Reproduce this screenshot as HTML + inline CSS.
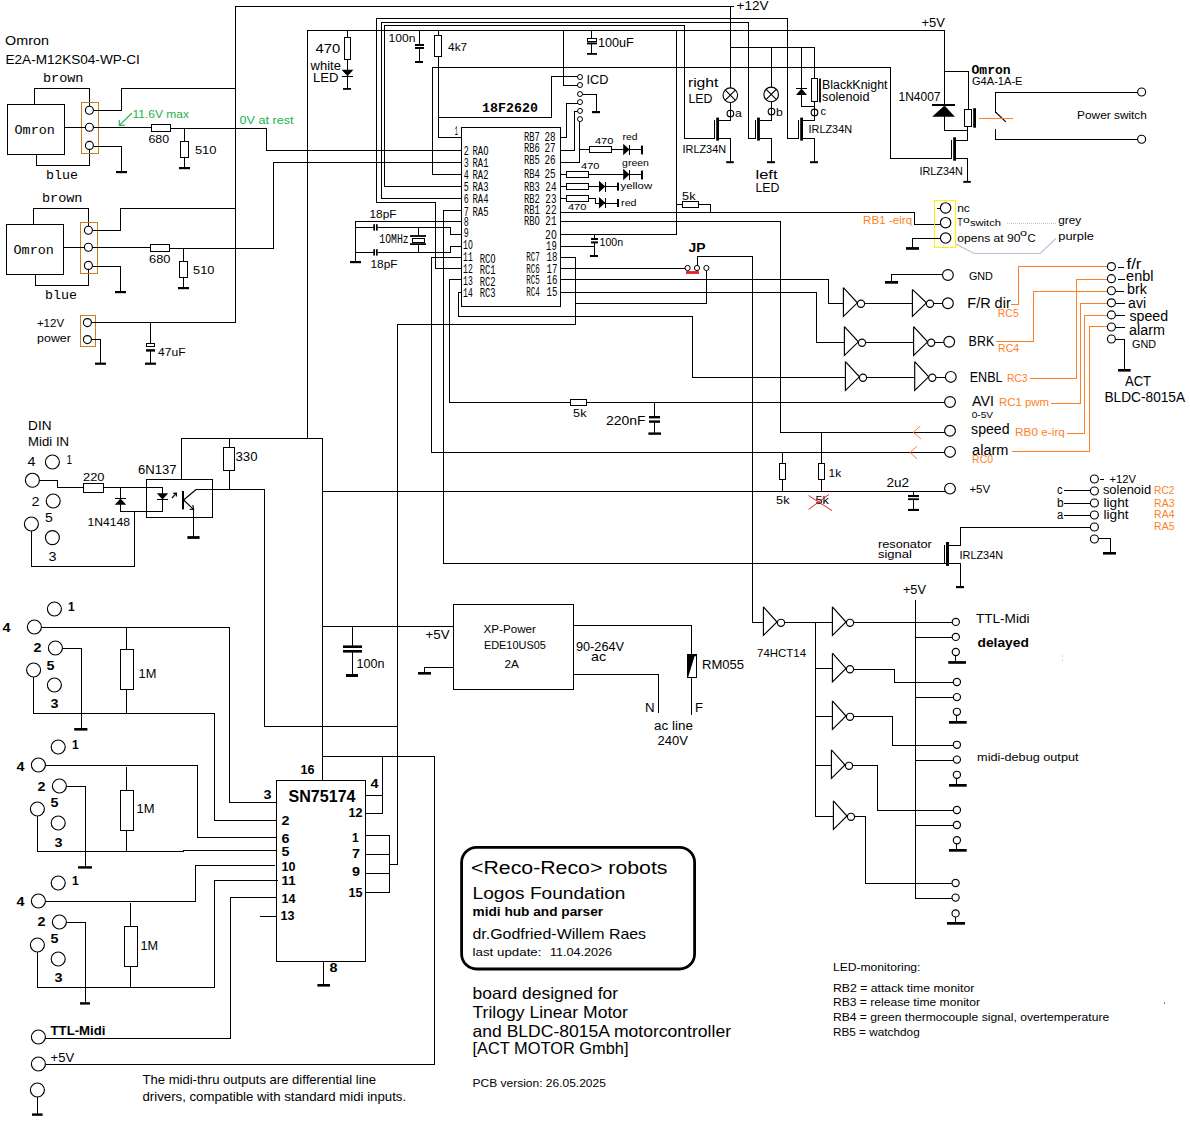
<!DOCTYPE html>
<html><head><meta charset="utf-8"><title>Reco-Reco robots schematic</title>
<style>html,body{margin:0;padding:0;background:#fff}body{width:1190px;height:1127px;overflow:hidden;font-family:"Liberation Sans",sans-serif}text{white-space:pre}</style></head>
<body>
<svg width="1190" height="1127" viewBox="0 0 1190 1127" style="display:block">
<path d="M235.5 322.5 L235.5 6.5 L733.5 6.5" stroke="#000" stroke-width="1" fill="none" stroke-linecap="square" shape-rendering="crispEdges"/>
<rect x="7.5" y="104.5" width="57" height="50" stroke="#000" stroke-width="1" fill="none" shape-rendering="crispEdges"/>
<path d="M34.5 104.5 L34.5 88.5 L89.5 88.5 L89.5 106.5" stroke="#000" stroke-width="1" fill="none" stroke-linecap="square" shape-rendering="crispEdges"/>
<path d="M36.5 154.5 L36.5 165.5 L89.5 165.5 L89.5 149.5" stroke="#000" stroke-width="1" fill="none" stroke-linecap="square" shape-rendering="crispEdges"/>
<rect x="81.5" y="102.5" width="17" height="51" stroke="#c8801e" stroke-width="1" fill="none" shape-rendering="crispEdges"/>
<path d="M94.5 110.5 L121.5 110.5 L121.5 88.5 L235.5 88.5" stroke="#000" stroke-width="1" fill="none" stroke-linecap="square" shape-rendering="crispEdges"/>
<path d="M64.5 127.5 L151.5 127.5" stroke="#000" stroke-width="1" fill="none" stroke-linecap="square" shape-rendering="crispEdges"/>
<rect x="151.5" y="124.5" width="19" height="7" stroke="#000" stroke-width="1" fill="none" shape-rendering="crispEdges"/>
<path d="M94.5 146.5 L121.5 146.5 L121.5 171.5" stroke="#000" stroke-width="1" fill="none" stroke-linecap="square" shape-rendering="crispEdges"/>
<rect x="116" y="171" width="11" height="2.2" fill="#000"/>
<path d="M184.5 128.5 L184.5 141.5" stroke="#000" stroke-width="1" fill="none" stroke-linecap="square" shape-rendering="crispEdges"/>
<rect x="180.5" y="141.5" width="8" height="16" stroke="#000" stroke-width="1" fill="none" shape-rendering="crispEdges"/>
<path d="M184.5 157.5 L184.5 167.5" stroke="#000" stroke-width="1" fill="none" stroke-linecap="square" shape-rendering="crispEdges"/>
<rect x="179" y="167" width="11" height="2.2" fill="#000"/>
<circle cx="89.4" cy="110.2" r="4" stroke="#000" stroke-width="1.15" fill="#fff"/>
<circle cx="89.4" cy="127.2" r="4" stroke="#000" stroke-width="1.15" fill="#fff"/>
<circle cx="89.4" cy="145.4" r="4" stroke="#000" stroke-width="1.15" fill="#fff"/>
<text x="42.9" y="81.6" font-size="13" font-family="'Liberation Mono', sans-serif" textLength="40.6" lengthAdjust="spacingAndGlyphs">brown</text>
<text x="14.5" y="134.4" font-size="13" font-family="'Liberation Mono', sans-serif" textLength="40.4" lengthAdjust="spacingAndGlyphs">Omron</text>
<text x="45.9" y="179.2" font-size="13" font-family="'Liberation Mono', sans-serif" textLength="32" lengthAdjust="spacingAndGlyphs">blue</text>
<text x="148.5" y="142.8" font-size="11" font-family="'Liberation Sans', sans-serif" textLength="20.6" lengthAdjust="spacingAndGlyphs">680</text>
<text x="194.9" y="154" font-size="11" font-family="'Liberation Sans', sans-serif" textLength="21.6" lengthAdjust="spacingAndGlyphs">510</text>
<rect x="6.5" y="224.5" width="57" height="50" stroke="#000" stroke-width="1" fill="none" shape-rendering="crispEdges"/>
<path d="M33.5 224.5 L33.5 208.5 L88.5 208.5 L88.5 226.5" stroke="#000" stroke-width="1" fill="none" stroke-linecap="square" shape-rendering="crispEdges"/>
<path d="M35.5 274.5 L35.5 285.5 L88.5 285.5 L88.5 269.5" stroke="#000" stroke-width="1" fill="none" stroke-linecap="square" shape-rendering="crispEdges"/>
<rect x="80.5" y="222.5" width="17" height="51" stroke="#c8801e" stroke-width="1" fill="none" shape-rendering="crispEdges"/>
<path d="M93.5 230.5 L120.5 230.5 L120.5 208.5 L235.5 208.5" stroke="#000" stroke-width="1" fill="none" stroke-linecap="square" shape-rendering="crispEdges"/>
<path d="M63.5 247.5 L150.5 247.5" stroke="#000" stroke-width="1" fill="none" stroke-linecap="square" shape-rendering="crispEdges"/>
<rect x="150.5" y="244.5" width="19" height="7" stroke="#000" stroke-width="1" fill="none" shape-rendering="crispEdges"/>
<path d="M93.5 266.5 L120.5 266.5 L120.5 291.5" stroke="#000" stroke-width="1" fill="none" stroke-linecap="square" shape-rendering="crispEdges"/>
<rect x="115" y="291" width="11" height="2.2" fill="#000"/>
<path d="M183.5 248.5 L183.5 261.5" stroke="#000" stroke-width="1" fill="none" stroke-linecap="square" shape-rendering="crispEdges"/>
<rect x="179.5" y="261.5" width="8" height="16" stroke="#000" stroke-width="1" fill="none" shape-rendering="crispEdges"/>
<path d="M183.5 277.5 L183.5 287.5" stroke="#000" stroke-width="1" fill="none" stroke-linecap="square" shape-rendering="crispEdges"/>
<rect x="178" y="287" width="11" height="2.2" fill="#000"/>
<circle cx="88.4" cy="230.2" r="4" stroke="#000" stroke-width="1.15" fill="#fff"/>
<circle cx="88.4" cy="247.2" r="4" stroke="#000" stroke-width="1.15" fill="#fff"/>
<circle cx="88.4" cy="265.4" r="4" stroke="#000" stroke-width="1.15" fill="#fff"/>
<text x="41.9" y="201.6" font-size="13" font-family="'Liberation Mono', sans-serif" textLength="40.6" lengthAdjust="spacingAndGlyphs">brown</text>
<text x="13.5" y="254.4" font-size="13" font-family="'Liberation Mono', sans-serif" textLength="40.4" lengthAdjust="spacingAndGlyphs">Omron</text>
<text x="44.9" y="299.2" font-size="13" font-family="'Liberation Mono', sans-serif" textLength="32" lengthAdjust="spacingAndGlyphs">blue</text>
<text x="149.1" y="262.8" font-size="11" font-family="'Liberation Sans', sans-serif" textLength="21.4" lengthAdjust="spacingAndGlyphs">680</text>
<text x="193.1" y="274" font-size="11" font-family="'Liberation Sans', sans-serif" textLength="21.4" lengthAdjust="spacingAndGlyphs">510</text>
<path d="M170.5 128.5 L266.5 128.5 L266.5 150.5 L461.5 150.5" stroke="#000" stroke-width="1" fill="none" stroke-linecap="square" shape-rendering="crispEdges"/>
<path d="M169.5 248.5 L273.5 248.5 L273.5 162.5 L461.5 162.5" stroke="#000" stroke-width="1" fill="none" stroke-linecap="square" shape-rendering="crispEdges"/>
<text x="5.1" y="45" font-size="13.5" font-family="'Liberation Sans', sans-serif" textLength="43.8" lengthAdjust="spacingAndGlyphs">Omron</text>
<text x="5.5" y="64" font-size="13.5" font-family="'Liberation Sans', sans-serif" textLength="134.4" lengthAdjust="spacingAndGlyphs">E2A-M12KS04-WP-CI</text>
<path d="M132 113 L119.6 125.2" stroke="#22b14c" stroke-width="1.15" fill="none"/>
<path d="M119.2 120 L119.4 125.4 L125 125.2" stroke="#22b14c" stroke-width="1.15" fill="none" stroke-linejoin="miter"/>
<text x="132.5" y="118" font-size="11.5" font-family="'Liberation Sans', sans-serif" fill="#22b14c" textLength="56.4" lengthAdjust="spacingAndGlyphs">11.6V max</text>
<text x="239.5" y="124.4" font-size="11.5" font-family="'Liberation Sans', sans-serif" fill="#22b14c" textLength="54" lengthAdjust="spacingAndGlyphs">0V at rest</text>
<rect x="80.5" y="315.5" width="15" height="31" stroke="#c8801e" stroke-width="1" fill="none" shape-rendering="crispEdges"/>
<path d="M92.5 322.5 L235.5 322.5" stroke="#000" stroke-width="1" fill="none" stroke-linecap="square" shape-rendering="crispEdges"/>
<path d="M150.5 322.5 L150.5 343.5" stroke="#000" stroke-width="1" fill="none" stroke-linecap="square" shape-rendering="crispEdges"/>
<rect x="146.5" y="343.5" width="8" height="3" stroke="#000" stroke-width="1" fill="none" shape-rendering="crispEdges"/>
<rect x="146" y="349.2" width="9" height="2.4" fill="#000"/>
<path d="M150.5 351.5 L150.5 363.5" stroke="#000" stroke-width="1" fill="none" stroke-linecap="square" shape-rendering="crispEdges"/>
<rect x="145" y="362.6" width="11" height="2.2" fill="#000"/>
<path d="M92.5 339.5 L100.5 339.5 L100.5 363.5" stroke="#000" stroke-width="1" fill="none" stroke-linecap="square" shape-rendering="crispEdges"/>
<rect x="95" y="362.6" width="11" height="2.2" fill="#000"/>
<circle cx="87.4" cy="322.6" r="4" stroke="#000" stroke-width="1.15" fill="#fff"/>
<circle cx="87.4" cy="339.6" r="4" stroke="#000" stroke-width="1.15" fill="#fff"/>
<text x="36.9" y="327" font-size="11" font-family="'Liberation Sans', sans-serif" textLength="27.2" lengthAdjust="spacingAndGlyphs">+12V</text>
<text x="37.1" y="342" font-size="11" font-family="'Liberation Sans', sans-serif" textLength="33.8" lengthAdjust="spacingAndGlyphs">power</text>
<text x="158.1" y="356" font-size="11" font-family="'Liberation Sans', sans-serif" textLength="27.4" lengthAdjust="spacingAndGlyphs">47uF</text>
<text x="28.1" y="430" font-size="13" font-family="'Liberation Sans', sans-serif" textLength="23.4" lengthAdjust="spacingAndGlyphs">DIN</text>
<text x="28.1" y="446" font-size="13" font-family="'Liberation Sans', sans-serif" textLength="41" lengthAdjust="spacingAndGlyphs">Midi IN</text>
<path d="M39.5 480.5 L57.5 480.5 L57.5 487.5 L83.5 487.5" stroke="#000" stroke-width="1" fill="none" stroke-linecap="square" shape-rendering="crispEdges"/>
<rect x="83.5" y="483.5" width="20" height="9" stroke="#000" stroke-width="1" fill="none" shape-rendering="crispEdges"/>
<path d="M103.5 487.5 L162.5 487.5 L162.5 511.5 L120.5 511.5 L120.5 487.5" stroke="#000" stroke-width="1" fill="none" stroke-linecap="square" shape-rendering="crispEdges"/>
<polygon points="120.5,498.6 114.8,504.8 126.2,504.8" fill="#000"/>
<path d="M115.5 498.5 L125.5 498.5" stroke="#000" stroke-width="1" fill="none" stroke-linecap="square" shape-rendering="crispEdges"/>
<polygon points="156.8,493.2 168.2,493.2 162.5,499.4" fill="#000"/>
<path d="M157.5 499.5 L167.5 499.5" stroke="#000" stroke-width="1" fill="none" stroke-linecap="square" shape-rendering="crispEdges"/>
<path d="M134.5 511.5 L134.5 566.5 L31.5 566.5 L31.5 531.5" stroke="#000" stroke-width="1" fill="none" stroke-linecap="square" shape-rendering="crispEdges"/>
<rect x="146.5" y="479.5" width="66" height="38" stroke="#000" stroke-width="1" fill="none" shape-rendering="crispEdges"/>
<path d="M181.5 479.5 L181.5 438.5 L322.5 438.5" stroke="#000" stroke-width="1" fill="none" stroke-linecap="square" shape-rendering="crispEdges"/>
<path d="M229.5 438.5 L229.5 447.5" stroke="#000" stroke-width="1" fill="none" stroke-linecap="square" shape-rendering="crispEdges"/>
<rect x="223.5" y="447.5" width="11" height="23" stroke="#000" stroke-width="1" fill="none" shape-rendering="crispEdges"/>
<path d="M229.5 470.5 L229.5 489.5" stroke="#000" stroke-width="1" fill="none" stroke-linecap="square" shape-rendering="crispEdges"/>
<rect x="182" y="491" width="2" height="18.4" fill="#000"/>
<path d="M183.6 500 L196.4 489.2" stroke="#000" stroke-width="1.15" fill="none"/>
<path d="M196.5 489.5 L264.5 489.5 L264.5 726.5 L397.5 726.5" stroke="#000" stroke-width="1" fill="none" stroke-linecap="square" shape-rendering="crispEdges"/>
<path d="M183.6 500 L193.6 509.4" stroke="#000" stroke-width="1.15" fill="none"/>
<path d="M189.5 509.3 L193.6 509.4 L192.8 505" stroke="#000" stroke-width="1.15" fill="none" stroke-linejoin="miter"/>
<path d="M193.5 509.5 L193.5 536.5" stroke="#000" stroke-width="1" fill="none" stroke-linecap="square" shape-rendering="crispEdges"/>
<rect x="187.4" y="536.1" width="12.2" height="2.8" fill="#000"/>
<path d="M172 498 L176.4 493.2" stroke="#000" stroke-width="1.15" fill="none"/>
<path d="M173.2 493.4 L176.4 493.2 L176.4 496.4" stroke="#000" stroke-width="1.15" fill="none" stroke-linejoin="miter"/>
<circle cx="52.4" cy="462" r="7" stroke="#000" stroke-width="1.15" fill="#fff"/>
<circle cx="32.4" cy="480.2" r="7" stroke="#000" stroke-width="1.15" fill="#fff"/>
<circle cx="53.2" cy="501" r="7" stroke="#000" stroke-width="1.15" fill="#fff"/>
<circle cx="31.4" cy="524" r="7" stroke="#000" stroke-width="1.15" fill="#fff"/>
<circle cx="52.4" cy="537.6" r="7" stroke="#000" stroke-width="1.15" fill="#fff"/>
<text x="27.5" y="466.4" font-size="12" font-family="'Liberation Sans', sans-serif" textLength="8" lengthAdjust="spacingAndGlyphs">4</text>
<text x="66.5" y="464.4" font-size="12" font-family="'Liberation Sans', sans-serif" textLength="5.6" lengthAdjust="spacingAndGlyphs">1</text>
<text x="31.5" y="505.6" font-size="12" font-family="'Liberation Sans', sans-serif" textLength="8" lengthAdjust="spacingAndGlyphs">2</text>
<text x="45.1" y="522.4" font-size="12" font-family="'Liberation Sans', sans-serif" textLength="7.8" lengthAdjust="spacingAndGlyphs">5</text>
<text x="48.5" y="561.2" font-size="12" font-family="'Liberation Sans', sans-serif" textLength="8" lengthAdjust="spacingAndGlyphs">3</text>
<text x="83.1" y="481" font-size="11" font-family="'Liberation Sans', sans-serif" textLength="21.4" lengthAdjust="spacingAndGlyphs">220</text>
<text x="87.5" y="526" font-size="11" font-family="'Liberation Sans', sans-serif" textLength="42.6" lengthAdjust="spacingAndGlyphs">1N4148</text>
<text x="137.9" y="473.6" font-size="13" font-family="'Liberation Sans', sans-serif" textLength="38.6" lengthAdjust="spacingAndGlyphs">6N137</text>
<text x="235.5" y="461" font-size="13" font-family="'Liberation Sans', sans-serif" textLength="22" lengthAdjust="spacingAndGlyphs">330</text>
<path d="M41.5 627.5 L229.5 627.5 L229.5 802.5 L276.5 802.5" stroke="#000" stroke-width="1" fill="none" stroke-linecap="square" shape-rendering="crispEdges"/>
<path d="M126.5 627.5 L126.5 649.5" stroke="#000" stroke-width="1" fill="none" stroke-linecap="square" shape-rendering="crispEdges"/>
<rect x="120.5" y="649.5" width="13" height="40" stroke="#000" stroke-width="1" fill="none" shape-rendering="crispEdges"/>
<path d="M126.5 689.5 L126.5 713.5" stroke="#000" stroke-width="1" fill="none" stroke-linecap="square" shape-rendering="crispEdges"/>
<path d="M62.5 648.5 L81.5 648.5 L81.5 728.5" stroke="#000" stroke-width="1" fill="none" stroke-linecap="square" shape-rendering="crispEdges"/>
<rect x="74.2" y="728" width="13.2" height="2.6" fill="#000"/>
<path d="M33.5 677.5 L33.5 713.5 L214.5 713.5 L214.5 820.5 L276.5 820.5" stroke="#000" stroke-width="1" fill="none" stroke-linecap="square" shape-rendering="crispEdges"/>
<circle cx="54.4" cy="609" r="7" stroke="#000" stroke-width="1.15" fill="#fff"/>
<circle cx="34.4" cy="627" r="7" stroke="#000" stroke-width="1.15" fill="#fff"/>
<circle cx="55.4" cy="648" r="7" stroke="#000" stroke-width="1.15" fill="#fff"/>
<circle cx="33.6" cy="670" r="7" stroke="#000" stroke-width="1.15" fill="#fff"/>
<circle cx="54.4" cy="685" r="7" stroke="#000" stroke-width="1.15" fill="#fff"/>
<text x="68.1" y="611" font-size="12" font-family="'Liberation Sans', sans-serif" font-weight="bold">1</text>
<text x="2.5" y="632.4" font-size="12" font-family="'Liberation Sans', sans-serif" font-weight="bold" textLength="8" lengthAdjust="spacingAndGlyphs">4</text>
<text x="33.5" y="652.4" font-size="12" font-family="'Liberation Sans', sans-serif" font-weight="bold" textLength="8" lengthAdjust="spacingAndGlyphs">2</text>
<text x="46.5" y="669.6" font-size="12" font-family="'Liberation Sans', sans-serif" font-weight="bold" textLength="8" lengthAdjust="spacingAndGlyphs">5</text>
<text x="50.5" y="708" font-size="12" font-family="'Liberation Sans', sans-serif" font-weight="bold" textLength="8" lengthAdjust="spacingAndGlyphs">3</text>
<text x="138.5" y="678" font-size="12" font-family="'Liberation Sans', sans-serif" textLength="17.8" lengthAdjust="spacingAndGlyphs">1M</text>
<path d="M45.5 765.5 L197.5 765.5 L197.5 837.5 L276.5 837.5" stroke="#000" stroke-width="1" fill="none" stroke-linecap="square" shape-rendering="crispEdges"/>
<path d="M126.5 767.5 L126.5 790.5" stroke="#000" stroke-width="1" fill="none" stroke-linecap="square" shape-rendering="crispEdges"/>
<rect x="120.5" y="790.5" width="13" height="40" stroke="#000" stroke-width="1" fill="none" shape-rendering="crispEdges"/>
<path d="M126.5 830.5 L126.5 851.5" stroke="#000" stroke-width="1" fill="none" stroke-linecap="square" shape-rendering="crispEdges"/>
<path d="M66.5 786.5 L85.5 786.5 L85.5 866.5" stroke="#000" stroke-width="1" fill="none" stroke-linecap="square" shape-rendering="crispEdges"/>
<rect x="78" y="866.2" width="14" height="2.4" fill="#000"/>
<path d="M37.5 816.5 L37.5 851.5 L183.5 851.5" stroke="#000" stroke-width="1" fill="none" stroke-linecap="square" shape-rendering="crispEdges"/>
<path d="M183.5 850.5 L276.5 850.5" stroke="#000" stroke-width="1" fill="none" stroke-linecap="square" shape-rendering="crispEdges"/>
<circle cx="58.2" cy="747" r="7" stroke="#000" stroke-width="1.15" fill="#fff"/>
<circle cx="38.4" cy="765" r="7" stroke="#000" stroke-width="1.15" fill="#fff"/>
<circle cx="59.4" cy="786" r="7" stroke="#000" stroke-width="1.15" fill="#fff"/>
<circle cx="37.4" cy="809" r="7" stroke="#000" stroke-width="1.15" fill="#fff"/>
<circle cx="58.2" cy="823" r="7" stroke="#000" stroke-width="1.15" fill="#fff"/>
<text x="72.1" y="749.4" font-size="12" font-family="'Liberation Sans', sans-serif" font-weight="bold">1</text>
<text x="16.5" y="770.6" font-size="12" font-family="'Liberation Sans', sans-serif" font-weight="bold" textLength="8" lengthAdjust="spacingAndGlyphs">4</text>
<text x="37.5" y="790.6" font-size="12" font-family="'Liberation Sans', sans-serif" font-weight="bold" textLength="8" lengthAdjust="spacingAndGlyphs">2</text>
<text x="50.5" y="807.4" font-size="12" font-family="'Liberation Sans', sans-serif" font-weight="bold" textLength="8" lengthAdjust="spacingAndGlyphs">5</text>
<text x="54.5" y="846.6" font-size="12" font-family="'Liberation Sans', sans-serif" font-weight="bold" textLength="8" lengthAdjust="spacingAndGlyphs">3</text>
<text x="136.5" y="813.4" font-size="12" font-family="'Liberation Sans', sans-serif" textLength="18" lengthAdjust="spacingAndGlyphs">1M</text>
<path d="M45.5 901.5 L195.5 901.5 L195.5 865.5 L274.5 865.5" stroke="#000" stroke-width="1" fill="none" stroke-linecap="square" shape-rendering="crispEdges"/>
<path d="M130.5 903.5 L130.5 926.5" stroke="#000" stroke-width="1" fill="none" stroke-linecap="square" shape-rendering="crispEdges"/>
<rect x="124.5" y="926.5" width="13" height="40" stroke="#000" stroke-width="1" fill="none" shape-rendering="crispEdges"/>
<path d="M130.5 966.5 L130.5 987.5" stroke="#000" stroke-width="1" fill="none" stroke-linecap="square" shape-rendering="crispEdges"/>
<path d="M66.5 922.5 L85.5 922.5 L85.5 1002.5" stroke="#000" stroke-width="1" fill="none" stroke-linecap="square" shape-rendering="crispEdges"/>
<rect x="80" y="1002.2" width="10" height="2.4" fill="#000"/>
<path d="M37.5 952.5 L37.5 987.5 L214.5 987.5 L214.5 880.5 L277.5 880.5" stroke="#000" stroke-width="1" fill="none" stroke-linecap="square" shape-rendering="crispEdges"/>
<path d="M276.5 897.5 L230.5 897.5 L230.5 1038.5 L45.5 1038.5" stroke="#000" stroke-width="1" fill="none" stroke-linecap="square" shape-rendering="crispEdges"/>
<circle cx="58.2" cy="883" r="7" stroke="#000" stroke-width="1.15" fill="#fff"/>
<circle cx="38.4" cy="901" r="7" stroke="#000" stroke-width="1.15" fill="#fff"/>
<circle cx="59.4" cy="922" r="7" stroke="#000" stroke-width="1.15" fill="#fff"/>
<circle cx="37.4" cy="945" r="7" stroke="#000" stroke-width="1.15" fill="#fff"/>
<circle cx="58.2" cy="959" r="7" stroke="#000" stroke-width="1.15" fill="#fff"/>
<text x="72.1" y="885.4" font-size="12" font-family="'Liberation Sans', sans-serif" font-weight="bold">1</text>
<text x="16.5" y="906.4" font-size="12" font-family="'Liberation Sans', sans-serif" font-weight="bold" textLength="8" lengthAdjust="spacingAndGlyphs">4</text>
<text x="37.5" y="926.4" font-size="12" font-family="'Liberation Sans', sans-serif" font-weight="bold" textLength="8" lengthAdjust="spacingAndGlyphs">2</text>
<text x="50.5" y="943.4" font-size="12" font-family="'Liberation Sans', sans-serif" font-weight="bold" textLength="8" lengthAdjust="spacingAndGlyphs">5</text>
<text x="54.5" y="982.4" font-size="12" font-family="'Liberation Sans', sans-serif" font-weight="bold" textLength="8" lengthAdjust="spacingAndGlyphs">3</text>
<text x="140.5" y="949.6" font-size="12" font-family="'Liberation Sans', sans-serif" textLength="17.6" lengthAdjust="spacingAndGlyphs">1M</text>
<path d="M45.5 1064.5 L434.5 1064.5 L434.5 756.5 L322.5 756.5" stroke="#000" stroke-width="1" fill="none" stroke-linecap="square" shape-rendering="crispEdges"/>
<path d="M37.5 1097.5 L37.5 1113.5" stroke="#000" stroke-width="1" fill="none" stroke-linecap="square" shape-rendering="crispEdges"/>
<rect x="32" y="1113.4" width="10.6" height="2.4" fill="#000"/>
<circle cx="38.4" cy="1037" r="7" stroke="#000" stroke-width="1.15" fill="#fff"/>
<circle cx="38.4" cy="1064" r="7" stroke="#000" stroke-width="1.15" fill="#fff"/>
<circle cx="37.4" cy="1090" r="7" stroke="#000" stroke-width="1.15" fill="#fff"/>
<text x="50.5" y="1035.4" font-size="12" font-family="'Liberation Sans', sans-serif" font-weight="bold" textLength="55" lengthAdjust="spacingAndGlyphs">TTL-Midi</text>
<text x="50.5" y="1062.4" font-size="12" font-family="'Liberation Sans', sans-serif" textLength="23.6" lengthAdjust="spacingAndGlyphs">+5V</text>
<text x="142.5" y="1084.4" font-size="13" font-family="'Liberation Sans', sans-serif" textLength="233.6" lengthAdjust="spacingAndGlyphs">The midi-thru outputs are differential line</text>
<text x="142.5" y="1100.6" font-size="13" font-family="'Liberation Sans', sans-serif" textLength="263.6" lengthAdjust="spacingAndGlyphs">drivers, compatible with standard midi inputs.</text>
<rect x="276.5" y="780.5" width="89" height="181" stroke="#000" stroke-width="1" fill="none" shape-rendering="crispEdges"/>
<path d="M322.5 438.5 L322.5 780.5" stroke="#000" stroke-width="1" fill="none" stroke-linecap="square" shape-rendering="crispEdges"/>
<path d="M382.5 756.5 L382.5 813.5 L366.5 813.5" stroke="#000" stroke-width="1" fill="none" stroke-linecap="square" shape-rendering="crispEdges"/>
<path d="M366.5 795.5 L382.5 795.5" stroke="#000" stroke-width="1" fill="none" stroke-linecap="square" shape-rendering="crispEdges"/>
<path d="M366.5 835.5 L389.5 835.5 L389.5 892.5 L366.5 892.5" stroke="#000" stroke-width="1" fill="none" stroke-linecap="square" shape-rendering="crispEdges"/>
<path d="M366.5 854.5 L389.5 854.5" stroke="#000" stroke-width="1" fill="none" stroke-linecap="square" shape-rendering="crispEdges"/>
<path d="M366.5 873.5 L389.5 873.5" stroke="#000" stroke-width="1" fill="none" stroke-linecap="square" shape-rendering="crispEdges"/>
<path d="M389.5 864.5 L397.5 864.5 L397.5 324.5" stroke="#000" stroke-width="1" fill="none" stroke-linecap="square" shape-rendering="crispEdges"/>
<path d="M260.5 916.5 L276.5 916.5" stroke="#000" stroke-width="1" fill="none" stroke-linecap="square" shape-rendering="crispEdges"/>
<path d="M323.5 961.5 L323.5 984.5" stroke="#000" stroke-width="1" fill="none" stroke-linecap="square" shape-rendering="crispEdges"/>
<rect x="317.4" y="984" width="12.6" height="2.6" fill="#000"/>
<text x="300.5" y="773.6" font-size="12" font-family="'Liberation Sans', sans-serif" font-weight="bold" textLength="14" lengthAdjust="spacingAndGlyphs">16</text>
<text x="263.5" y="799.4" font-size="12" font-family="'Liberation Sans', sans-serif" font-weight="bold" textLength="8" lengthAdjust="spacingAndGlyphs">3</text>
<text x="288.5" y="801.8" font-size="16" font-family="'Liberation Sans', sans-serif" font-weight="bold" textLength="67" lengthAdjust="spacingAndGlyphs">SN75174</text>
<text x="370.5" y="788.4" font-size="12" font-family="'Liberation Sans', sans-serif" font-weight="bold" textLength="8" lengthAdjust="spacingAndGlyphs">4</text>
<text x="348.5" y="817.4" font-size="12" font-family="'Liberation Sans', sans-serif" font-weight="bold" textLength="14" lengthAdjust="spacingAndGlyphs">12</text>
<text x="281.5" y="824.6" font-size="12" font-family="'Liberation Sans', sans-serif" font-weight="bold" textLength="8" lengthAdjust="spacingAndGlyphs">2</text>
<text x="281.5" y="843" font-size="12" font-family="'Liberation Sans', sans-serif" font-weight="bold" textLength="8" lengthAdjust="spacingAndGlyphs">6</text>
<text x="281.5" y="856.4" font-size="12" font-family="'Liberation Sans', sans-serif" font-weight="bold" textLength="8" lengthAdjust="spacingAndGlyphs">5</text>
<text x="281.5" y="871" font-size="12" font-family="'Liberation Sans', sans-serif" font-weight="bold" textLength="14" lengthAdjust="spacingAndGlyphs">10</text>
<text x="281.5" y="885.4" font-size="12" font-family="'Liberation Sans', sans-serif" font-weight="bold" textLength="14" lengthAdjust="spacingAndGlyphs">11</text>
<text x="281.5" y="903" font-size="12" font-family="'Liberation Sans', sans-serif" font-weight="bold" textLength="14" lengthAdjust="spacingAndGlyphs">14</text>
<text x="280.5" y="920.4" font-size="12" font-family="'Liberation Sans', sans-serif" font-weight="bold" textLength="14" lengthAdjust="spacingAndGlyphs">13</text>
<text x="352.1" y="842.4" font-size="12" font-family="'Liberation Sans', sans-serif" font-weight="bold">1</text>
<text x="351.9" y="858.4" font-size="12" font-family="'Liberation Sans', sans-serif" font-weight="bold" textLength="8" lengthAdjust="spacingAndGlyphs">7</text>
<text x="351.9" y="876.4" font-size="12" font-family="'Liberation Sans', sans-serif" font-weight="bold" textLength="8" lengthAdjust="spacingAndGlyphs">9</text>
<text x="348.5" y="896.6" font-size="12" font-family="'Liberation Sans', sans-serif" font-weight="bold" textLength="14" lengthAdjust="spacingAndGlyphs">15</text>
<text x="329.5" y="972.4" font-size="12" font-family="'Liberation Sans', sans-serif" font-weight="bold" textLength="8" lengthAdjust="spacingAndGlyphs">8</text>
<path d="M322.5 626.5 L453.5 626.5" stroke="#000" stroke-width="1" fill="none" stroke-linecap="square" shape-rendering="crispEdges"/>
<path d="M352.5 626.5 L352.5 645.5" stroke="#000" stroke-width="1" fill="none" stroke-linecap="square" shape-rendering="crispEdges"/>
<rect x="343" y="645.4" width="19" height="2.6" fill="#000"/>
<rect x="343" y="650" width="19" height="2.6" fill="#000"/>
<path d="M352.5 652.5 L352.5 674.5" stroke="#000" stroke-width="1" fill="none" stroke-linecap="square" shape-rendering="crispEdges"/>
<rect x="346" y="674" width="12" height="3" fill="#000"/>
<text x="356.5" y="667.6" font-size="12" font-family="'Liberation Sans', sans-serif" textLength="28" lengthAdjust="spacingAndGlyphs">100n</text>
<text x="425.5" y="639.4" font-size="12" font-family="'Liberation Sans', sans-serif" textLength="24" lengthAdjust="spacingAndGlyphs">+5V</text>
<rect x="453.5" y="604.5" width="120" height="85" stroke="#000" stroke-width="1" fill="none" shape-rendering="crispEdges"/>
<path d="M453.5 667.5 L424.5 667.5 L424.5 672.5" stroke="#000" stroke-width="1" fill="none" stroke-linecap="square" shape-rendering="crispEdges"/>
<rect x="418" y="672" width="13" height="2.6" fill="#000"/>
<text x="483.5" y="633.4" font-size="11" font-family="'Liberation Sans', sans-serif" textLength="52.4" lengthAdjust="spacingAndGlyphs">XP-Power</text>
<text x="483.9" y="648.6" font-size="11" font-family="'Liberation Sans', sans-serif" textLength="62" lengthAdjust="spacingAndGlyphs">EDE10US05</text>
<text x="504.5" y="667.6" font-size="11" font-family="'Liberation Sans', sans-serif" textLength="14.4" lengthAdjust="spacingAndGlyphs">2A</text>
<path d="M573.5 625.5 L691.5 625.5 L691.5 654.5" stroke="#000" stroke-width="1" fill="none" stroke-linecap="square" shape-rendering="crispEdges"/>
<path d="M573.5 674.5 L658.5 674.5 L658.5 712.5" stroke="#000" stroke-width="1" fill="none" stroke-linecap="square" shape-rendering="crispEdges"/>
<rect x="687.5" y="654.5" width="9" height="23" stroke="#000" stroke-width="1" fill="none" shape-rendering="crispEdges"/>
<polygon points="687,654 696,654 696,656.3 694.6,656.3 688.2,677 687,677" fill="#000"/>
<path d="M691.5 677.5 L691.5 714.5" stroke="#000" stroke-width="1" fill="none" stroke-linecap="square" shape-rendering="crispEdges"/>
<text x="575.9" y="650.6" font-size="13" font-family="'Liberation Sans', sans-serif" textLength="48.2" lengthAdjust="spacingAndGlyphs">90-264V</text>
<text x="591.1" y="661.4" font-size="13" font-family="'Liberation Sans', sans-serif" textLength="15" lengthAdjust="spacingAndGlyphs">ac</text>
<text x="644.9" y="711.6" font-size="12" font-family="'Liberation Sans', sans-serif" textLength="9.6" lengthAdjust="spacingAndGlyphs">N</text>
<text x="695.1" y="711.6" font-size="12" font-family="'Liberation Sans', sans-serif" textLength="8" lengthAdjust="spacingAndGlyphs">F</text>
<text x="654.1" y="730" font-size="12.5" font-family="'Liberation Sans', sans-serif" textLength="38.8" lengthAdjust="spacingAndGlyphs">ac line</text>
<text x="657.5" y="744.6" font-size="12.5" font-family="'Liberation Sans', sans-serif" textLength="30.4" lengthAdjust="spacingAndGlyphs">240V</text>
<text x="702" y="669" font-size="13" font-family="'Liberation Sans', sans-serif" textLength="42.1" lengthAdjust="spacingAndGlyphs">RM055</text>
<rect x="461.6" y="847.4" width="233" height="121.6" rx="15" ry="15" fill="none" stroke="#000" stroke-width="2.8"/>
<text x="471" y="873.8" font-size="18" font-family="'Liberation Sans', sans-serif" textLength="196.5" lengthAdjust="spacingAndGlyphs">&lt;Reco-Reco&gt; robots</text>
<text x="472.5" y="898.8" font-size="17" font-family="'Liberation Sans', sans-serif" textLength="153" lengthAdjust="spacingAndGlyphs">Logos Foundation</text>
<text x="472.5" y="916.2" font-size="12" font-family="'Liberation Sans', sans-serif" font-weight="bold" textLength="130.6" lengthAdjust="spacingAndGlyphs">midi hub and parser</text>
<text x="472.5" y="939.4" font-size="15" font-family="'Liberation Sans', sans-serif" textLength="173.6" lengthAdjust="spacingAndGlyphs">dr.Godfried-Willem Raes</text>
<text x="472.5" y="956.2" font-size="11" font-family="'Liberation Sans', sans-serif" textLength="69" lengthAdjust="spacingAndGlyphs">last update:</text>
<text x="549.9" y="956.2" font-size="11" font-family="'Liberation Sans', sans-serif" textLength="62.2" lengthAdjust="spacingAndGlyphs">11.04.2026</text>
<text x="472.5" y="999.2" font-size="16.5" font-family="'Liberation Sans', sans-serif" textLength="145.6" lengthAdjust="spacingAndGlyphs">board designed for</text>
<text x="472.5" y="1018.4" font-size="16.5" font-family="'Liberation Sans', sans-serif" textLength="155.4" lengthAdjust="spacingAndGlyphs">Trilogy Linear Motor</text>
<text x="472.5" y="1036.8" font-size="16.5" font-family="'Liberation Sans', sans-serif" textLength="258.5" lengthAdjust="spacingAndGlyphs">and BLDC-8015A motorcontroller</text>
<text x="472.5" y="1053.8" font-size="16.5" font-family="'Liberation Sans', sans-serif" textLength="156" lengthAdjust="spacingAndGlyphs">[ACT MOTOR Gmbh]</text>
<text x="472.5" y="1087.2" font-size="11" font-family="'Liberation Sans', sans-serif" textLength="133.4" lengthAdjust="spacingAndGlyphs">PCB version: 26.05.2025</text>
<text x="832.9" y="971.4" font-size="11" font-family="'Liberation Sans', sans-serif" textLength="87.6" lengthAdjust="spacingAndGlyphs">LED-monitoring:</text>
<text x="832.9" y="991.8" font-size="11" font-family="'Liberation Sans', sans-serif" textLength="141.4" lengthAdjust="spacingAndGlyphs">RB2 = attack time monitor</text>
<text x="832.9" y="1006.4" font-size="11" font-family="'Liberation Sans', sans-serif" textLength="147.1" lengthAdjust="spacingAndGlyphs">RB3 = release time monitor</text>
<text x="832.9" y="1021.4" font-size="11" font-family="'Liberation Sans', sans-serif" textLength="276.3" lengthAdjust="spacingAndGlyphs">RB4 = green thermocouple signal, overtemperature</text>
<text x="832.9" y="1036.4" font-size="11" font-family="'Liberation Sans', sans-serif" textLength="86.8" lengthAdjust="spacingAndGlyphs">RB5 = watchdog</text>
<rect x="1164" y="1002.6" width="1" height="1" fill="#000"/>
<rect x="461.5" y="127.5" width="99" height="179" stroke="#000" stroke-width="1" fill="none" shape-rendering="crispEdges"/>
<text x="454.7" y="134.7" font-size="12" font-family="'Liberation Mono', sans-serif" textLength="3.1" lengthAdjust="spacingAndGlyphs">1</text>
<text x="463.7" y="154.9" font-size="12" font-family="'Liberation Mono', sans-serif" textLength="5" lengthAdjust="spacingAndGlyphs">2</text>
<text x="463.7" y="167" font-size="12" font-family="'Liberation Mono', sans-serif" textLength="5" lengthAdjust="spacingAndGlyphs">3</text>
<text x="463.7" y="178.9" font-size="12" font-family="'Liberation Mono', sans-serif" textLength="5" lengthAdjust="spacingAndGlyphs">4</text>
<text x="463.7" y="190.5" font-size="12" font-family="'Liberation Mono', sans-serif" textLength="5" lengthAdjust="spacingAndGlyphs">5</text>
<text x="463.7" y="202.5" font-size="12" font-family="'Liberation Mono', sans-serif" textLength="5" lengthAdjust="spacingAndGlyphs">6</text>
<text x="463.7" y="215.6" font-size="12" font-family="'Liberation Mono', sans-serif" textLength="5" lengthAdjust="spacingAndGlyphs">7</text>
<text x="463.7" y="226.2" font-size="12" font-family="'Liberation Mono', sans-serif" textLength="5" lengthAdjust="spacingAndGlyphs">8</text>
<text x="463.7" y="237.4" font-size="12" font-family="'Liberation Mono', sans-serif" textLength="5" lengthAdjust="spacingAndGlyphs">9</text>
<text x="463.1" y="249.4" font-size="12" font-family="'Liberation Mono', sans-serif" textLength="9.7" lengthAdjust="spacingAndGlyphs">1O</text>
<text x="463.1" y="261" font-size="12" font-family="'Liberation Mono', sans-serif" textLength="9.7" lengthAdjust="spacingAndGlyphs">11</text>
<text x="463.1" y="272.6" font-size="12" font-family="'Liberation Mono', sans-serif" textLength="9.7" lengthAdjust="spacingAndGlyphs">12</text>
<text x="463.1" y="284.6" font-size="12" font-family="'Liberation Mono', sans-serif" textLength="9.7" lengthAdjust="spacingAndGlyphs">13</text>
<text x="463.1" y="297" font-size="12" font-family="'Liberation Mono', sans-serif" textLength="9.7" lengthAdjust="spacingAndGlyphs">14</text>
<text x="472.5" y="154.9" font-size="12" font-family="'Liberation Mono', sans-serif" textLength="16" lengthAdjust="spacingAndGlyphs">RAO</text>
<text x="472.5" y="167" font-size="12" font-family="'Liberation Mono', sans-serif" textLength="16" lengthAdjust="spacingAndGlyphs">RA1</text>
<text x="472.5" y="178.9" font-size="12" font-family="'Liberation Mono', sans-serif" textLength="16" lengthAdjust="spacingAndGlyphs">RA2</text>
<text x="472.5" y="190.5" font-size="12" font-family="'Liberation Mono', sans-serif" textLength="16" lengthAdjust="spacingAndGlyphs">RA3</text>
<text x="472.5" y="202.5" font-size="12" font-family="'Liberation Mono', sans-serif" textLength="16" lengthAdjust="spacingAndGlyphs">RA4</text>
<text x="472.5" y="215.6" font-size="12" font-family="'Liberation Mono', sans-serif" textLength="16" lengthAdjust="spacingAndGlyphs">RA5</text>
<text x="479.7" y="263.4" font-size="12" font-family="'Liberation Mono', sans-serif" textLength="16" lengthAdjust="spacingAndGlyphs">RCO</text>
<text x="479.7" y="274.4" font-size="12" font-family="'Liberation Mono', sans-serif" textLength="16" lengthAdjust="spacingAndGlyphs">RC1</text>
<text x="479.7" y="286" font-size="12" font-family="'Liberation Mono', sans-serif" textLength="16" lengthAdjust="spacingAndGlyphs">RC2</text>
<text x="479.7" y="297" font-size="12" font-family="'Liberation Mono', sans-serif" textLength="16" lengthAdjust="spacingAndGlyphs">RC3</text>
<text x="523.9" y="140.7" font-size="12" font-family="'Liberation Mono', sans-serif" textLength="15.9" lengthAdjust="spacingAndGlyphs">RB7</text>
<text x="544.5" y="140.7" font-size="12" font-family="'Liberation Mono', sans-serif" textLength="11.2" lengthAdjust="spacingAndGlyphs">28</text>
<text x="523.9" y="151.7" font-size="12" font-family="'Liberation Mono', sans-serif" textLength="15.9" lengthAdjust="spacingAndGlyphs">RB6</text>
<text x="544.5" y="151.7" font-size="12" font-family="'Liberation Mono', sans-serif" textLength="11.2" lengthAdjust="spacingAndGlyphs">27</text>
<text x="523.9" y="163.8" font-size="12" font-family="'Liberation Mono', sans-serif" textLength="15.9" lengthAdjust="spacingAndGlyphs">RB5</text>
<text x="544.5" y="163.8" font-size="12" font-family="'Liberation Mono', sans-serif" textLength="11.2" lengthAdjust="spacingAndGlyphs">26</text>
<text x="523.9" y="177.7" font-size="12" font-family="'Liberation Mono', sans-serif" textLength="15.9" lengthAdjust="spacingAndGlyphs">RB4</text>
<text x="544.5" y="177.7" font-size="12" font-family="'Liberation Mono', sans-serif" textLength="11.2" lengthAdjust="spacingAndGlyphs">25</text>
<text x="523.9" y="190.5" font-size="12" font-family="'Liberation Mono', sans-serif" textLength="15.9" lengthAdjust="spacingAndGlyphs">RB3</text>
<text x="545.3" y="190.5" font-size="12" font-family="'Liberation Mono', sans-serif" textLength="11.2" lengthAdjust="spacingAndGlyphs">24</text>
<text x="523.9" y="202.5" font-size="12" font-family="'Liberation Mono', sans-serif" textLength="15.9" lengthAdjust="spacingAndGlyphs">RB2</text>
<text x="545.3" y="202.5" font-size="12" font-family="'Liberation Mono', sans-serif" textLength="11.2" lengthAdjust="spacingAndGlyphs">23</text>
<text x="523.9" y="213.6" font-size="12" font-family="'Liberation Mono', sans-serif" textLength="15.9" lengthAdjust="spacingAndGlyphs">RB1</text>
<text x="545.3" y="213.6" font-size="12" font-family="'Liberation Mono', sans-serif" textLength="11.2" lengthAdjust="spacingAndGlyphs">22</text>
<text x="523.9" y="224.7" font-size="12" font-family="'Liberation Mono', sans-serif" textLength="15.9" lengthAdjust="spacingAndGlyphs">RBO</text>
<text x="545.3" y="224.7" font-size="12" font-family="'Liberation Mono', sans-serif" textLength="11.2" lengthAdjust="spacingAndGlyphs">21</text>
<text x="545.1" y="238.6" font-size="12" font-family="'Liberation Mono', sans-serif" textLength="11.6" lengthAdjust="spacingAndGlyphs">2O</text>
<text x="546.1" y="250" font-size="12" font-family="'Liberation Mono', sans-serif" textLength="10.6" lengthAdjust="spacingAndGlyphs">19</text>
<text x="526.3" y="261" font-size="12" font-family="'Liberation Mono', sans-serif" textLength="13.5" lengthAdjust="spacingAndGlyphs">RC7</text>
<text x="546.5" y="261" font-size="12" font-family="'Liberation Mono', sans-serif" textLength="10.8" lengthAdjust="spacingAndGlyphs">18</text>
<text x="526.3" y="273" font-size="12" font-family="'Liberation Mono', sans-serif" textLength="13.5" lengthAdjust="spacingAndGlyphs">RC6</text>
<text x="546.5" y="273" font-size="12" font-family="'Liberation Mono', sans-serif" textLength="10.8" lengthAdjust="spacingAndGlyphs">17</text>
<text x="526.3" y="284.4" font-size="12" font-family="'Liberation Mono', sans-serif" textLength="13.5" lengthAdjust="spacingAndGlyphs">RC5</text>
<text x="546.5" y="284.4" font-size="12" font-family="'Liberation Mono', sans-serif" textLength="10.8" lengthAdjust="spacingAndGlyphs">16</text>
<text x="526.3" y="296" font-size="12" font-family="'Liberation Mono', sans-serif" textLength="13.5" lengthAdjust="spacingAndGlyphs">RC4</text>
<text x="546.5" y="296" font-size="12" font-family="'Liberation Mono', sans-serif" textLength="10.8" lengthAdjust="spacingAndGlyphs">15</text>
<text x="482.1" y="111.6" font-size="13" font-family="'Liberation Mono', sans-serif" font-weight="bold" textLength="55.8" lengthAdjust="spacingAndGlyphs">18F2620</text>
<path d="M307.5 438.5 L307.5 30.5 L944.5 30.5 L944.5 104.5" stroke="#000" stroke-width="1" fill="none" stroke-linecap="square" shape-rendering="crispEdges"/>
<path d="M347.5 30.5 L347.5 37.5" stroke="#000" stroke-width="1" fill="none" stroke-linecap="square" shape-rendering="crispEdges"/>
<rect x="344.5" y="37.5" width="6" height="22" stroke="#000" stroke-width="1" fill="none" shape-rendering="crispEdges"/>
<path d="M347.5 59.5 L347.5 88.5" stroke="#000" stroke-width="1" fill="none" stroke-linecap="square" shape-rendering="crispEdges"/>
<polygon points="341.6,69.8 353.4,69.8 347.5,76.2" fill="#000"/>
<path d="M342.5 76.5 L352.5 76.5" stroke="#000" stroke-width="1" fill="none" stroke-linecap="square" shape-rendering="crispEdges"/>
<rect x="343" y="88" width="8" height="1.8" fill="#000"/>
<text x="315.5" y="52.6" font-size="13.4" font-family="'Liberation Sans', sans-serif" textLength="24.6" lengthAdjust="spacingAndGlyphs">470</text>
<text x="310.5" y="69.6" font-size="13" font-family="'Liberation Sans', sans-serif" textLength="30.4" lengthAdjust="spacingAndGlyphs">white</text>
<text x="312.9" y="82.4" font-size="13" font-family="'Liberation Sans', sans-serif" textLength="25.6" lengthAdjust="spacingAndGlyphs">LED</text>
<path d="M419.5 30.5 L419.5 44.5" stroke="#000" stroke-width="1" fill="none" stroke-linecap="square" shape-rendering="crispEdges"/>
<rect x="415" y="44" width="9" height="2" fill="#000"/>
<rect x="415" y="47" width="9" height="2" fill="#000"/>
<path d="M419.5 49.5 L419.5 61.5" stroke="#000" stroke-width="1" fill="none" stroke-linecap="square" shape-rendering="crispEdges"/>
<rect x="415" y="61" width="8" height="2" fill="#000"/>
<text x="388.5" y="41.6" font-size="10.5" font-family="'Liberation Sans', sans-serif" textLength="27" lengthAdjust="spacingAndGlyphs">100n</text>
<path d="M438.5 30.5 L438.5 35.5" stroke="#000" stroke-width="1" fill="none" stroke-linecap="square" shape-rendering="crispEdges"/>
<rect x="434.5" y="35.5" width="7" height="21" stroke="#000" stroke-width="1" fill="none" shape-rendering="crispEdges"/>
<path d="M438.5 56.5 L438.5 137.5 L461.5 137.5" stroke="#000" stroke-width="1" fill="none" stroke-linecap="square" shape-rendering="crispEdges"/>
<text x="448.1" y="50.6" font-size="11" font-family="'Liberation Sans', sans-serif" textLength="19" lengthAdjust="spacingAndGlyphs">4k7</text>
<path d="M438.5 117.5 L551.5 117.5 L551.5 76.5 L577.5 76.5" stroke="#000" stroke-width="1" fill="none" stroke-linecap="square" shape-rendering="crispEdges"/>
<path d="M676.5 67.5 L432.5 67.5 L432.5 174.5 L461.5 174.5" stroke="#000" stroke-width="1" fill="none" stroke-linecap="square" shape-rendering="crispEdges"/>
<path d="M435.5 202.5 L376.5 202.5 L376.5 18.5 L787.5 18.5 L787.5 138.5 L798.5 138.5" stroke="#000" stroke-width="1" fill="none" stroke-linecap="square" shape-rendering="crispEdges"/>
<path d="M435.5 202.5 L435.5 268.5 L461.5 268.5" stroke="#000" stroke-width="1" fill="none" stroke-linecap="square" shape-rendering="crispEdges"/>
<path d="M461.5 198.5 L381.5 198.5 L381.5 22.5 L748.5 22.5 L748.5 138.5 L755.5 138.5" stroke="#000" stroke-width="1" fill="none" stroke-linecap="square" shape-rendering="crispEdges"/>
<path d="M461.5 186.5 L384.5 186.5 L384.5 25.5 L684.5 25.5 L684.5 138.5 L714.5 138.5" stroke="#000" stroke-width="1" fill="none" stroke-linecap="square" shape-rendering="crispEdges"/>
<path d="M461.5 210.5 L443.5 210.5 L443.5 563.5 L945.5 563.5" stroke="#000" stroke-width="1" fill="none" stroke-linecap="square" shape-rendering="crispEdges"/>
<path d="M461.5 221.5 L355.5 221.5 L355.5 261.5" stroke="#000" stroke-width="1" fill="none" stroke-linecap="square" shape-rendering="crispEdges"/>
<rect x="350" y="261" width="11" height="2.2" fill="#000"/>
<path d="M355.5 227.5 L374.5 227.5" stroke="#000" stroke-width="1" fill="none" stroke-linecap="square" shape-rendering="crispEdges"/>
<rect x="373.3" y="224.2" width="1.7" height="6.4" fill="#000"/>
<rect x="376" y="224.2" width="1.7" height="6.4" fill="#000"/>
<path d="M378.5 227.5 L450.5 227.5 L450.5 234.5 L461.5 234.5" stroke="#000" stroke-width="1" fill="none" stroke-linecap="square" shape-rendering="crispEdges"/>
<path d="M355.5 252.5 L374.5 252.5" stroke="#000" stroke-width="1" fill="none" stroke-linecap="square" shape-rendering="crispEdges"/>
<rect x="373.3" y="249.2" width="1.7" height="6.4" fill="#000"/>
<rect x="376" y="249.2" width="1.7" height="6.4" fill="#000"/>
<path d="M378.5 252.5 L450.5 252.5 L450.5 246.5 L461.5 246.5" stroke="#000" stroke-width="1" fill="none" stroke-linecap="square" shape-rendering="crispEdges"/>
<path d="M418.5 227.5 L418.5 235.5" stroke="#000" stroke-width="1" fill="none" stroke-linecap="square" shape-rendering="crispEdges"/>
<rect x="410" y="235.1" width="16" height="1.8" fill="#000"/>
<rect x="412.5" y="238.5" width="12" height="4" stroke="#000" stroke-width="1" fill="none" shape-rendering="crispEdges"/>
<rect x="410" y="243.2" width="16" height="1.8" fill="#000"/>
<path d="M418.5 245.5 L418.5 252.5" stroke="#000" stroke-width="1" fill="none" stroke-linecap="square" shape-rendering="crispEdges"/>
<text x="369.5" y="217.6" font-size="11" font-family="'Liberation Sans', sans-serif" textLength="27" lengthAdjust="spacingAndGlyphs">18pF</text>
<text x="370.5" y="267.6" font-size="11" font-family="'Liberation Sans', sans-serif" textLength="27" lengthAdjust="spacingAndGlyphs">18pF</text>
<text x="379.3" y="242.6" font-size="12" font-family="'Liberation Mono', sans-serif" textLength="29.4" lengthAdjust="spacingAndGlyphs">1OMHz</text>
<path d="M461.5 257.5 L431.5 257.5 L431.5 452.5 L944.5 452.5" stroke="#000" stroke-width="1" fill="none" stroke-linecap="square" shape-rendering="crispEdges"/>
<path d="M461.5 279.5 L449.5 279.5 L449.5 402.5 L570.5 402.5" stroke="#000" stroke-width="1" fill="none" stroke-linecap="square" shape-rendering="crispEdges"/>
<rect x="570.5" y="399.5" width="16" height="6" stroke="#000" stroke-width="1" fill="none" shape-rendering="crispEdges"/>
<path d="M586.5 402.5 L944.5 402.5" stroke="#000" stroke-width="1" fill="none" stroke-linecap="square" shape-rendering="crispEdges"/>
<text x="573.1" y="417.4" font-size="11" font-family="'Liberation Sans', sans-serif" textLength="13.4" lengthAdjust="spacingAndGlyphs">5k</text>
<path d="M461.5 292.5 L458.5 292.5 L458.5 316.5 L692.5 316.5 L692.5 377.5 L845.5 377.5" stroke="#000" stroke-width="1" fill="none" stroke-linecap="square" shape-rendering="crispEdges"/>
<path d="M560.5 257.5 L575.5 257.5 L575.5 324.5 L397.5 324.5" stroke="#000" stroke-width="1" fill="none" stroke-linecap="square" shape-rendering="crispEdges"/>
<path d="M575.5 303.5 L706.5 303.5 L706.5 271.5" stroke="#000" stroke-width="1" fill="none" stroke-linecap="square" shape-rendering="crispEdges"/>
<path d="M560.5 268.5 L685.5 268.5" stroke="#000" stroke-width="1" fill="none" stroke-linecap="square" shape-rendering="crispEdges"/>
<path d="M697.5 265.5 L697.5 256.5 L752.5 256.5 L752.5 622.5 L763.5 622.5" stroke="#000" stroke-width="1" fill="none" stroke-linecap="square" shape-rendering="crispEdges"/>
<rect x="686" y="271.1" width="13" height="2.8" fill="#ed1c24"/>
<circle cx="687.6" cy="268" r="2.6" stroke="#000" stroke-width="1" fill="#fff"/>
<circle cx="697" cy="268" r="2.6" stroke="#000" stroke-width="1" fill="#fff"/>
<circle cx="706.4" cy="268" r="2.6" stroke="#000" stroke-width="1" fill="#fff"/>
<text x="688.5" y="251.6" font-size="13.5" font-family="'Liberation Sans', sans-serif" font-weight="bold" textLength="17" lengthAdjust="spacingAndGlyphs">JP</text>
<path d="M560.5 279.5 L828.5 279.5 L828.5 303.5 L843.5 303.5" stroke="#000" stroke-width="1" fill="none" stroke-linecap="square" shape-rendering="crispEdges"/>
<path d="M560.5 292.5 L816.5 292.5 L816.5 342.5 L844.5 342.5" stroke="#000" stroke-width="1" fill="none" stroke-linecap="square" shape-rendering="crispEdges"/>
<path d="M560.5 234.5 L676.5 234.5 L676.5 30.5" stroke="#000" stroke-width="1" fill="none" stroke-linecap="square" shape-rendering="crispEdges"/>
<path d="M560.5 246.5 L594.5 246.5" stroke="#000" stroke-width="1" fill="none" stroke-linecap="square" shape-rendering="crispEdges"/>
<path d="M594.5 234.5 L594.5 238.5" stroke="#000" stroke-width="1" fill="none" stroke-linecap="square" shape-rendering="crispEdges"/>
<rect x="591" y="238" width="7" height="2" fill="#000"/>
<rect x="591" y="241.4" width="7" height="2" fill="#000"/>
<path d="M594.5 243.5 L594.5 255.5" stroke="#000" stroke-width="1" fill="none" stroke-linecap="square" shape-rendering="crispEdges"/>
<rect x="590" y="255" width="8" height="2" fill="#000"/>
<text x="599.5" y="246" font-size="10" font-family="'Liberation Sans', sans-serif" textLength="23.6" lengthAdjust="spacingAndGlyphs">100n</text>
<path d="M560.5 221.5 L780.5 221.5 L780.5 432.5 L944.5 432.5" stroke="#000" stroke-width="1" fill="none" stroke-linecap="square" shape-rendering="crispEdges"/>
<path d="M560.5 212.5 L914.5 212.5 L914.5 224.5 L940.5 224.5" stroke="#000" stroke-width="1" fill="none" stroke-linecap="square" shape-rendering="crispEdges"/>
<path d="M676.5 204.5 L682.5 204.5" stroke="#000" stroke-width="1" fill="none" stroke-linecap="square" shape-rendering="crispEdges"/>
<rect x="682.5" y="201.5" width="16" height="6" stroke="#000" stroke-width="1" fill="none" shape-rendering="crispEdges"/>
<path d="M698.5 204.5 L710.5 204.5 L710.5 212.5" stroke="#000" stroke-width="1" fill="none" stroke-linecap="square" shape-rendering="crispEdges"/>
<text x="682.1" y="199.6" font-size="11" font-family="'Liberation Sans', sans-serif" textLength="13.4" lengthAdjust="spacingAndGlyphs">5k</text>
<path d="M560.5 137.5 L566.5 137.5 L566.5 103.5 L577.5 103.5" stroke="#000" stroke-width="1" fill="none" stroke-linecap="square" shape-rendering="crispEdges"/>
<path d="M560.5 150.5 L574.5 150.5 L574.5 111.5 L577.5 111.5" stroke="#000" stroke-width="1" fill="none" stroke-linecap="square" shape-rendering="crispEdges"/>
<path d="M560.5 162.5 L579.5 162.5 L579.5 122.5" stroke="#000" stroke-width="1" fill="none" stroke-linecap="square" shape-rendering="crispEdges"/>
<path d="M579.5 149.5 L589.5 149.5" stroke="#000" stroke-width="1" fill="none" stroke-linecap="square" shape-rendering="crispEdges"/>
<rect x="589.5" y="146.5" width="22" height="6" stroke="#000" stroke-width="1" fill="none" shape-rendering="crispEdges"/>
<path d="M611.5 149.5 L642.5 149.5" stroke="#000" stroke-width="1" fill="none" stroke-linecap="square" shape-rendering="crispEdges"/>
<polygon points="623.2,143.8 623.2,155.3 629.5,149.6" fill="#000"/>
<path d="M629.5 145.5 L629.5 154.5" stroke="#000" stroke-width="1" fill="none" stroke-linecap="square" shape-rendering="crispEdges"/>
<rect x="641" y="145.6" width="2" height="8.8" fill="#000"/>
<path d="M560.5 174.5 L566.5 174.5" stroke="#000" stroke-width="1" fill="none" stroke-linecap="square" shape-rendering="crispEdges"/>
<rect x="566.5" y="171.5" width="22" height="6" stroke="#000" stroke-width="1" fill="none" shape-rendering="crispEdges"/>
<path d="M588.5 174.5 L642.5 174.5" stroke="#000" stroke-width="1" fill="none" stroke-linecap="square" shape-rendering="crispEdges"/>
<polygon points="623.2,168.8 623.2,180.2 629.5,174.5" fill="#000"/>
<path d="M629.5 170.5 L629.5 179.5" stroke="#000" stroke-width="1" fill="none" stroke-linecap="square" shape-rendering="crispEdges"/>
<rect x="641" y="170.6" width="2" height="8.8" fill="#000"/>
<path d="M560.5 186.5 L566.5 186.5" stroke="#000" stroke-width="1" fill="none" stroke-linecap="square" shape-rendering="crispEdges"/>
<rect x="566.5" y="183.5" width="22" height="6" stroke="#000" stroke-width="1" fill="none" shape-rendering="crispEdges"/>
<path d="M588.5 186.5 L618.5 186.5" stroke="#000" stroke-width="1" fill="none" stroke-linecap="square" shape-rendering="crispEdges"/>
<polygon points="599,180.8 599,192.2 605.3,186.5" fill="#000"/>
<path d="M605.5 182.5 L605.5 191.5" stroke="#000" stroke-width="1" fill="none" stroke-linecap="square" shape-rendering="crispEdges"/>
<rect x="617" y="182.6" width="2" height="8" fill="#000"/>
<path d="M560.5 198.5 L566.5 198.5" stroke="#000" stroke-width="1" fill="none" stroke-linecap="square" shape-rendering="crispEdges"/>
<rect x="566.5" y="195.5" width="22" height="6" stroke="#000" stroke-width="1" fill="none" shape-rendering="crispEdges"/>
<path d="M588.5 198.5 L595.5 198.5 L595.5 203.5 L618.5 203.5" stroke="#000" stroke-width="1" fill="none" stroke-linecap="square" shape-rendering="crispEdges"/>
<polygon points="599,197 599,208.4 605.3,202.8" fill="#000"/>
<path d="M605.5 198.5 L605.5 207.5" stroke="#000" stroke-width="1" fill="none" stroke-linecap="square" shape-rendering="crispEdges"/>
<rect x="617" y="199" width="2" height="8" fill="#000"/>
<text x="594.9" y="144.4" font-size="9.6" font-family="'Liberation Sans', sans-serif" textLength="18.6" lengthAdjust="spacingAndGlyphs">470</text>
<text x="622.5" y="140.3" font-size="9.6" font-family="'Liberation Sans', sans-serif" textLength="15" lengthAdjust="spacingAndGlyphs">red</text>
<text x="581.1" y="169.4" font-size="9.6" font-family="'Liberation Sans', sans-serif" textLength="18.4" lengthAdjust="spacingAndGlyphs">470</text>
<text x="622.1" y="165.9" font-size="9.6" font-family="'Liberation Sans', sans-serif" textLength="26.8" lengthAdjust="spacingAndGlyphs">green</text>
<text x="620.5" y="188.9" font-size="9.6" font-family="'Liberation Sans', sans-serif" textLength="31.6" lengthAdjust="spacingAndGlyphs">yellow</text>
<text x="567.9" y="210" font-size="9.6" font-family="'Liberation Sans', sans-serif" textLength="18.6" lengthAdjust="spacingAndGlyphs">470</text>
<text x="621.1" y="205.9" font-size="9.6" font-family="'Liberation Sans', sans-serif" textLength="15.4" lengthAdjust="spacingAndGlyphs">red</text>
<path d="M563.5 30.5 L563.5 85.5 L577.5 85.5" stroke="#000" stroke-width="1" fill="none" stroke-linecap="square" shape-rendering="crispEdges"/>
<path d="M583.5 94.5 L596.5 94.5 L596.5 111.5" stroke="#000" stroke-width="1" fill="none" stroke-linecap="square" shape-rendering="crispEdges"/>
<rect x="592" y="111" width="8" height="2.2" fill="#000"/>
<circle cx="580" cy="77" r="2.5" stroke="#000" stroke-width="1" fill="#fff"/>
<circle cx="580" cy="85" r="2.5" stroke="#000" stroke-width="1" fill="#fff"/>
<circle cx="580" cy="94" r="2.5" stroke="#000" stroke-width="1" fill="#fff"/>
<circle cx="580" cy="102.1" r="2.5" stroke="#000" stroke-width="1" fill="#fff"/>
<circle cx="580" cy="110.9" r="2.5" stroke="#000" stroke-width="1" fill="#fff"/>
<circle cx="580" cy="119.1" r="2.5" stroke="#000" stroke-width="1" fill="#fff"/>
<text x="586.5" y="83.6" font-size="13" font-family="'Liberation Sans', sans-serif" textLength="22" lengthAdjust="spacingAndGlyphs">ICD</text>
<path d="M591.5 30.5 L591.5 38.5" stroke="#000" stroke-width="1" fill="none" stroke-linecap="square" shape-rendering="crispEdges"/>
<rect x="587.5" y="38.5" width="9" height="3" stroke="#000" stroke-width="1" fill="none" shape-rendering="crispEdges"/>
<rect x="587" y="42.4" width="10" height="2" fill="#000"/>
<path d="M591.5 44.5 L591.5 53.5" stroke="#000" stroke-width="1" fill="none" stroke-linecap="square" shape-rendering="crispEdges"/>
<rect x="587" y="53" width="10" height="1.8" fill="#000"/>
<text x="597.9" y="46.6" font-size="13" font-family="'Liberation Sans', sans-serif" textLength="36" lengthAdjust="spacingAndGlyphs">100uF</text>
<path d="M654.5 402.5 L654.5 416.5" stroke="#000" stroke-width="1" fill="none" stroke-linecap="square" shape-rendering="crispEdges"/>
<rect x="649" y="416" width="11" height="2.4" fill="#000"/>
<rect x="649" y="420.4" width="11" height="2.4" fill="#000"/>
<path d="M654.5 422.5 L654.5 432.5" stroke="#000" stroke-width="1" fill="none" stroke-linecap="square" shape-rendering="crispEdges"/>
<rect x="648.4" y="432.4" width="12.6" height="2.4" fill="#000"/>
<text x="605.9" y="425" font-size="13.5" font-family="'Liberation Sans', sans-serif" textLength="39.6" lengthAdjust="spacingAndGlyphs">220nF</text>
<path d="M730.5 6.5 L730.5 88.5" stroke="#000" stroke-width="1" fill="none" stroke-linecap="square" shape-rendering="crispEdges"/>
<circle cx="730.3" cy="95.2" r="7.3" stroke="#000" stroke-width="1.15" fill="#fff"/>
<path d="M725.3 90.2 L735.3 100.2" stroke="#000" stroke-width="1.15" fill="none"/>
<path d="M725.3 100.2 L735.3 90.2" stroke="#000" stroke-width="1.15" fill="none"/>
<path d="M730.5 103.5 L730.5 120.5 L719.5 120.5" stroke="#000" stroke-width="1" fill="none" stroke-linecap="square" shape-rendering="crispEdges"/>
<circle cx="730.4" cy="113.5" r="3.3" stroke="#000" stroke-width="1.15" fill="none"/>
<path d="M714.5 120.5 L714.5 138.5" stroke="#000" stroke-width="1" fill="none" stroke-linecap="square" shape-rendering="crispEdges"/>
<rect x="716.2" y="117.6" width="2.8" height="23" fill="#000"/>
<path d="M719.5 138.5 L730.5 138.5 L730.5 161.5" stroke="#000" stroke-width="1" fill="none" stroke-linecap="square" shape-rendering="crispEdges"/>
<rect x="726.2" y="161.2" width="7.6" height="2" fill="#000"/>
<path d="M730.5 47.5 L814.5 47.5" stroke="#000" stroke-width="1" fill="none" stroke-linecap="square" shape-rendering="crispEdges"/>
<path d="M771.5 47.5 L771.5 87.5" stroke="#000" stroke-width="1" fill="none" stroke-linecap="square" shape-rendering="crispEdges"/>
<circle cx="771.2" cy="94.4" r="7.3" stroke="#000" stroke-width="1.15" fill="#fff"/>
<path d="M766.2 89.4 L776.2 99.4" stroke="#000" stroke-width="1.15" fill="none"/>
<path d="M766.2 99.4 L776.2 89.4" stroke="#000" stroke-width="1.15" fill="none"/>
<path d="M771.5 102.5 L771.5 120.5 L760.5 120.5" stroke="#000" stroke-width="1" fill="none" stroke-linecap="square" shape-rendering="crispEdges"/>
<circle cx="771.5" cy="111.6" r="3.3" stroke="#000" stroke-width="1.15" fill="none"/>
<path d="M755.5 120.5 L755.5 138.5" stroke="#000" stroke-width="1" fill="none" stroke-linecap="square" shape-rendering="crispEdges"/>
<rect x="757.1" y="117.6" width="2.8" height="23" fill="#000"/>
<path d="M760.5 138.5 L771.5 138.5 L771.5 161.5" stroke="#000" stroke-width="1" fill="none" stroke-linecap="square" shape-rendering="crispEdges"/>
<rect x="767" y="161.2" width="8" height="2" fill="#000"/>
<path d="M801.5 47.5 L801.5 106.5 L814.5 106.5" stroke="#000" stroke-width="1" fill="none" stroke-linecap="square" shape-rendering="crispEdges"/>
<polygon points="801.5,88.4 796,94.9 807,94.9" fill="#000"/>
<path d="M796.5 88.5 L806.5 88.5" stroke="#000" stroke-width="1" fill="none" stroke-linecap="square" shape-rendering="crispEdges"/>
<path d="M814.5 47.5 L814.5 78.5" stroke="#000" stroke-width="1" fill="none" stroke-linecap="square" shape-rendering="crispEdges"/>
<rect x="811.5" y="78.5" width="6" height="23" stroke="#000" stroke-width="1" fill="none" shape-rendering="crispEdges"/>
<rect x="819.1" y="78.5" width="1.8" height="23.9" fill="#000"/>
<path d="M814.5 101.5 L814.5 120.5 L803.5 120.5" stroke="#000" stroke-width="1" fill="none" stroke-linecap="square" shape-rendering="crispEdges"/>
<circle cx="814.5" cy="112.4" r="3.3" stroke="#000" stroke-width="1.15" fill="none"/>
<path d="M798.5 120.5 L798.5 138.5" stroke="#000" stroke-width="1" fill="none" stroke-linecap="square" shape-rendering="crispEdges"/>
<rect x="800.2" y="117.6" width="2.8" height="23" fill="#000"/>
<path d="M803.5 138.5 L814.5 138.5 L814.5 161.5" stroke="#000" stroke-width="1" fill="none" stroke-linecap="square" shape-rendering="crispEdges"/>
<rect x="810" y="161.2" width="8" height="2" fill="#000"/>
<text x="736.5" y="10" font-size="13" font-family="'Liberation Sans', sans-serif" textLength="32" lengthAdjust="spacingAndGlyphs">+12V</text>
<text x="687.9" y="87.4" font-size="13.5" font-family="'Liberation Sans', sans-serif" textLength="30.6" lengthAdjust="spacingAndGlyphs">right</text>
<text x="688.5" y="103.4" font-size="13.5" font-family="'Liberation Sans', sans-serif" textLength="24" lengthAdjust="spacingAndGlyphs">LED</text>
<text x="682.5" y="152.6" font-size="11" font-family="'Liberation Sans', sans-serif" textLength="43.6" lengthAdjust="spacingAndGlyphs">IRLZ34N</text>
<text x="755.5" y="179" font-size="13.5" font-family="'Liberation Sans', sans-serif" textLength="22" lengthAdjust="spacingAndGlyphs">left</text>
<text x="755.5" y="192" font-size="13.5" font-family="'Liberation Sans', sans-serif" textLength="24" lengthAdjust="spacingAndGlyphs">LED</text>
<text x="735" y="116.5" font-size="11" font-family="'Liberation Sans', sans-serif" textLength="6.8" lengthAdjust="spacingAndGlyphs">a</text>
<text x="776.1" y="115.6" font-size="11" font-family="'Liberation Sans', sans-serif" textLength="6.8" lengthAdjust="spacingAndGlyphs">b</text>
<text x="820.5" y="115" font-size="11" font-family="'Liberation Sans', sans-serif" textLength="5.6" lengthAdjust="spacingAndGlyphs">c</text>
<text x="822.1" y="89" font-size="12" font-family="'Liberation Sans', sans-serif" textLength="65.4" lengthAdjust="spacingAndGlyphs">BlackKnight</text>
<text x="822.1" y="100.6" font-size="12" font-family="'Liberation Sans', sans-serif" textLength="47.4" lengthAdjust="spacingAndGlyphs">solenoid</text>
<text x="808.5" y="133" font-size="11" font-family="'Liberation Sans', sans-serif" textLength="43.6" lengthAdjust="spacingAndGlyphs">IRLZ34N</text>
<path d="M676.5 67.5 L890.5 67.5 L890.5 158.5 L951.5 158.5 L951.5 140.5" stroke="#000" stroke-width="1" fill="none" stroke-linecap="square" shape-rendering="crispEdges"/>
<text x="921.5" y="27" font-size="13" font-family="'Liberation Sans', sans-serif" textLength="23.4" lengthAdjust="spacingAndGlyphs">+5V</text>
<text x="898.5" y="100.6" font-size="12" font-family="'Liberation Sans', sans-serif" textLength="42" lengthAdjust="spacingAndGlyphs">1N4007</text>
<rect x="932" y="104" width="23" height="2" fill="#000"/>
<polygon points="944.5,105.6 932.1,116.8 954.9,116.8" fill="#000"/>
<path d="M944.5 116.5 L944.5 130.5 L967.5 130.5" stroke="#000" stroke-width="1" fill="none" stroke-linecap="square" shape-rendering="crispEdges"/>
<path d="M944.5 71.5 L968.5 71.5 L968.5 109.5" stroke="#000" stroke-width="1" fill="none" stroke-linecap="square" shape-rendering="crispEdges"/>
<rect x="964.5" y="109.5" width="7" height="17" stroke="#000" stroke-width="1" fill="none" shape-rendering="crispEdges"/>
<rect x="973.2" y="108.2" width="2.8" height="19.5" fill="#000"/>
<path d="M967.5 126.5 L967.5 140.5 L956.5 140.5" stroke="#000" stroke-width="1" fill="none" stroke-linecap="square" shape-rendering="crispEdges"/>
<rect x="953.2" y="137.3" width="2.8" height="23.4" fill="#000"/>
<path d="M956.5 158.5 L967.5 158.5 L967.5 181.5" stroke="#000" stroke-width="1" fill="none" stroke-linecap="square" shape-rendering="crispEdges"/>
<rect x="963.3" y="180.9" width="7.5" height="1.9" fill="#000"/>
<text x="971.5" y="73.6" font-size="13" font-family="'Liberation Mono', sans-serif" font-weight="bold" textLength="39.2" lengthAdjust="spacingAndGlyphs">Omron</text>
<text x="972" y="84.8" font-size="11" font-family="'Liberation Sans', sans-serif" textLength="50.5" lengthAdjust="spacingAndGlyphs">G4A-1A-E</text>
<text x="919.5" y="174.8" font-size="11" font-family="'Liberation Sans', sans-serif" textLength="43.4" lengthAdjust="spacingAndGlyphs">IRLZ34N</text>
<path d="M1137.5 92.5 L995.5 92.5 L995.5 112.5" stroke="#000" stroke-width="1" fill="none" stroke-linecap="square" shape-rendering="crispEdges"/>
<path d="M995.5 112 L1005.8 121.8" stroke="#000" stroke-width="1.15" fill="none"/>
<path d="M995.5 129.5 L995.5 139.5 L1137.5 139.5" stroke="#000" stroke-width="1" fill="none" stroke-linecap="square" shape-rendering="crispEdges"/>
<circle cx="1141.6" cy="92" r="4" stroke="#000" stroke-width="1.15" fill="#fff"/>
<circle cx="1141.6" cy="139.2" r="4" stroke="#000" stroke-width="1.15" fill="#fff"/>
<path d="M979.5 118.5 L1012.5 118.5" stroke="#ff7f27" stroke-width="1" fill="none" stroke-linecap="square" shape-rendering="crispEdges"/>
<text x="1077.1" y="119" font-size="11.5" font-family="'Liberation Sans', sans-serif" textLength="69.8" lengthAdjust="spacingAndGlyphs">Power switch</text>
<rect x="934.5" y="200.5" width="21" height="47" stroke="#fff200" stroke-width="1" fill="none" shape-rendering="crispEdges"/>
<path d="M937.5 208.5 L940.5 208.5" stroke="#000" stroke-width="1" fill="none" stroke-linecap="square" shape-rendering="crispEdges"/>
<path d="M940.5 238.5 L912.5 238.5 L912.5 247.5" stroke="#000" stroke-width="1" fill="none" stroke-linecap="square" shape-rendering="crispEdges"/>
<rect x="906" y="247.1" width="13" height="2.7" fill="#000"/>
<circle cx="945.6" cy="207.9" r="5.2" stroke="#000" stroke-width="1.15" fill="#fff"/>
<circle cx="945.6" cy="222.7" r="5.2" stroke="#000" stroke-width="1.15" fill="#fff"/>
<circle cx="945.6" cy="238" r="5.2" stroke="#000" stroke-width="1.15" fill="#fff"/>
<text x="863.1" y="223.6" font-size="11" font-family="'Liberation Sans', sans-serif" fill="#ff7f27" textLength="49" lengthAdjust="spacingAndGlyphs">RB1 -eirq</text>
<text x="957.2" y="211.5" font-size="11" font-family="'Liberation Sans', sans-serif" textLength="12.7" lengthAdjust="spacingAndGlyphs">nc</text>
<text x="957.2" y="226" font-size="10.5" font-family="'Liberation Sans', sans-serif" textLength="5.5" lengthAdjust="spacingAndGlyphs">T</text>
<text x="963.1" y="222.6" font-size="9" font-family="'Liberation Sans', sans-serif" textLength="6.8" lengthAdjust="spacingAndGlyphs">o</text>
<text x="969.9" y="226" font-size="9.5" font-family="'Liberation Sans', sans-serif" textLength="31.2" lengthAdjust="spacingAndGlyphs">switch</text>
<text x="957.2" y="241.7" font-size="11" font-family="'Liberation Sans', sans-serif" textLength="63.3" lengthAdjust="spacingAndGlyphs">opens at 90</text>
<text x="1020.1" y="236" font-size="9" font-family="'Liberation Sans', sans-serif" textLength="7" lengthAdjust="spacingAndGlyphs">o</text>
<text x="1027.4" y="241.7" font-size="11" font-family="'Liberation Sans', sans-serif" textLength="8.1" lengthAdjust="spacingAndGlyphs">C</text>
<text x="1058.3" y="224.3" font-size="11" font-family="'Liberation Sans', sans-serif" textLength="22.9" lengthAdjust="spacingAndGlyphs">grey</text>
<text x="1058.3" y="239.5" font-size="11" font-family="'Liberation Sans', sans-serif" textLength="35.7" lengthAdjust="spacingAndGlyphs">purple</text>
<path d="M1007 223.5 L1056 223.5" stroke="#c3bcd6" stroke-width="1" stroke-dasharray="1 1" fill="none"/>
<path d="M956 244 L974 253.5 L1040 253.5 L1056 238.5" stroke="#c3bcd6" stroke-width="1.15" fill="none" stroke-linejoin="miter"/>
<path d="M942.5 274.5 L891.5 274.5 L891.5 281.5" stroke="#000" stroke-width="1" fill="none" stroke-linecap="square" shape-rendering="crispEdges"/>
<rect x="885" y="281" width="13" height="2.7" fill="#000"/>
<path d="M843.4 287.6 L843.4 316.4 L857.4 302.8 L843.4 287.6" stroke="#000" stroke-width="1.15" fill="none" stroke-linejoin="miter"/>
<circle cx="861" cy="303.7" r="3.6" stroke="#000" stroke-width="1.15" fill="#fff"/>
<path d="M865.5 303.5 L912.5 303.5" stroke="#000" stroke-width="1" fill="none" stroke-linecap="square" shape-rendering="crispEdges"/>
<path d="M912.4 289.4 L912.4 316.4 L926.4 302.8 L912.4 289.4" stroke="#000" stroke-width="1.15" fill="none" stroke-linejoin="miter"/>
<circle cx="930" cy="303.7" r="3.6" stroke="#000" stroke-width="1.15" fill="#fff"/>
<path d="M934.5 303.5 L942.5 303.5" stroke="#000" stroke-width="1" fill="none" stroke-linecap="square" shape-rendering="crispEdges"/>
<path d="M844.4 326.6 L844.4 355.4 L858.4 341.8 L844.4 326.6" stroke="#000" stroke-width="1.15" fill="none" stroke-linejoin="miter"/>
<circle cx="862" cy="342.7" r="3.6" stroke="#000" stroke-width="1.15" fill="#fff"/>
<path d="M866.5 342.5 L913.5 342.5" stroke="#000" stroke-width="1" fill="none" stroke-linecap="square" shape-rendering="crispEdges"/>
<path d="M913.6 326.6 L913.6 355.4 L927.6 341.8 L913.6 326.6" stroke="#000" stroke-width="1.15" fill="none" stroke-linejoin="miter"/>
<circle cx="931.2" cy="342.7" r="3.6" stroke="#000" stroke-width="1.15" fill="#fff"/>
<path d="M935.5 342.5 L943.5 342.5" stroke="#000" stroke-width="1" fill="none" stroke-linecap="square" shape-rendering="crispEdges"/>
<path d="M845.4 361.6 L845.4 390.4 L859.4 376.8 L845.4 361.6" stroke="#000" stroke-width="1.15" fill="none" stroke-linejoin="miter"/>
<circle cx="863" cy="377.7" r="3.6" stroke="#000" stroke-width="1.15" fill="#fff"/>
<path d="M867.5 377.5 L914.5 377.5" stroke="#000" stroke-width="1" fill="none" stroke-linecap="square" shape-rendering="crispEdges"/>
<path d="M914.7 361.6 L914.7 390.4 L928.7 376.8 L914.7 361.6" stroke="#000" stroke-width="1.15" fill="none" stroke-linejoin="miter"/>
<circle cx="932.3" cy="377.7" r="3.6" stroke="#000" stroke-width="1.15" fill="#fff"/>
<path d="M936.5 377.5 L945.5 377.5" stroke="#000" stroke-width="1" fill="none" stroke-linecap="square" shape-rendering="crispEdges"/>
<circle cx="947.9" cy="275" r="5.4" stroke="#000" stroke-width="1.15" fill="#fff"/>
<circle cx="947.9" cy="303.3" r="5.4" stroke="#000" stroke-width="1.15" fill="#fff"/>
<circle cx="949.2" cy="341.8" r="5.4" stroke="#000" stroke-width="1.15" fill="#fff"/>
<circle cx="950.8" cy="376.9" r="5.4" stroke="#000" stroke-width="1.15" fill="#fff"/>
<circle cx="950" cy="402" r="5.4" stroke="#000" stroke-width="1.15" fill="#fff"/>
<circle cx="950" cy="430.8" r="5.4" stroke="#000" stroke-width="1.15" fill="#fff"/>
<circle cx="950" cy="451.9" r="5.4" stroke="#000" stroke-width="1.15" fill="#fff"/>
<circle cx="950" cy="488.6" r="5.4" stroke="#000" stroke-width="1.15" fill="#fff"/>
<path d="M920.3 425.9 L913.3 432.4 L920.8 438.8" stroke="#ff7f27" stroke-width="1" fill="none" stroke-linejoin="miter"/>
<path d="M917.1 446.2 L910 452.4 L917.1 458.8" stroke="#ff7f27" stroke-width="1" fill="none" stroke-linejoin="miter"/>
<text x="968.9" y="279.7" font-size="11" font-family="'Liberation Sans', sans-serif" textLength="24" lengthAdjust="spacingAndGlyphs">GND</text>
<text x="967.3" y="307.6" font-size="14" font-family="'Liberation Sans', sans-serif" textLength="43.4" lengthAdjust="spacingAndGlyphs">F/R dir</text>
<text x="997.8" y="317.4" font-size="11" font-family="'Liberation Sans', sans-serif" fill="#ff7f27" textLength="20.9" lengthAdjust="spacingAndGlyphs">RC5</text>
<text x="968.6" y="345.6" font-size="14" font-family="'Liberation Sans', sans-serif" textLength="25.6" lengthAdjust="spacingAndGlyphs">BRK</text>
<text x="998.1" y="351.6" font-size="11" font-family="'Liberation Sans', sans-serif" fill="#ff7f27" textLength="21" lengthAdjust="spacingAndGlyphs">RC4</text>
<text x="969.7" y="381.7" font-size="14" font-family="'Liberation Sans', sans-serif" textLength="32.8" lengthAdjust="spacingAndGlyphs">ENBL</text>
<text x="1006.9" y="381.6" font-size="11" font-family="'Liberation Sans', sans-serif" fill="#ff7f27" textLength="20.6" lengthAdjust="spacingAndGlyphs">RC3</text>
<text x="972.1" y="405.6" font-size="14" font-family="'Liberation Sans', sans-serif" textLength="21.8" lengthAdjust="spacingAndGlyphs">AVI</text>
<text x="998.9" y="405.6" font-size="11" font-family="'Liberation Sans', sans-serif" fill="#ff7f27" textLength="50.2" lengthAdjust="spacingAndGlyphs">RC1 pwm</text>
<text x="971.7" y="417.6" font-size="9" font-family="'Liberation Sans', sans-serif" textLength="21.4" lengthAdjust="spacingAndGlyphs">0-5V</text>
<text x="971.1" y="434.4" font-size="14" font-family="'Liberation Sans', sans-serif" textLength="38.4" lengthAdjust="spacingAndGlyphs">speed</text>
<text x="1015.1" y="435.6" font-size="11" font-family="'Liberation Sans', sans-serif" fill="#ff7f27" textLength="49.8" lengthAdjust="spacingAndGlyphs">RB0 e-irq</text>
<text x="972.1" y="454.6" font-size="14" font-family="'Liberation Sans', sans-serif" textLength="36.4" lengthAdjust="spacingAndGlyphs">alarm</text>
<text x="972.1" y="463.2" font-size="11" font-family="'Liberation Sans', sans-serif" fill="#ff7f27" textLength="21" lengthAdjust="spacingAndGlyphs">RC0</text>
<text x="969.4" y="492.6" font-size="11" font-family="'Liberation Sans', sans-serif" textLength="20.8" lengthAdjust="spacingAndGlyphs">+5V</text>
<path d="M1011.5 304.5 L1018.5 304.5 L1018.5 266.5 L1107.5 266.5" stroke="#ff7f27" stroke-width="1" fill="none" stroke-linecap="square" shape-rendering="crispEdges"/>
<path d="M996.5 341.5 L1033.5 341.5 L1033.5 291.5 L1107.5 291.5" stroke="#ff7f27" stroke-width="1" fill="none" stroke-linecap="square" shape-rendering="crispEdges"/>
<path d="M1030.5 378.5 L1076.5 378.5 L1076.5 279.5 L1107.5 279.5" stroke="#ff7f27" stroke-width="1" fill="none" stroke-linecap="square" shape-rendering="crispEdges"/>
<path d="M1051.5 403.5 L1080.5 403.5 L1080.5 303.5 L1107.5 303.5" stroke="#ff7f27" stroke-width="1" fill="none" stroke-linecap="square" shape-rendering="crispEdges"/>
<path d="M1067.5 433.5 L1084.5 433.5 L1084.5 315.5 L1107.5 315.5" stroke="#ff7f27" stroke-width="1" fill="none" stroke-linecap="square" shape-rendering="crispEdges"/>
<path d="M1012.5 451.5 L1089.5 451.5 L1089.5 326.5 L1107.5 326.5" stroke="#ff7f27" stroke-width="1" fill="none" stroke-linecap="square" shape-rendering="crispEdges"/>
<circle cx="1111.4" cy="266.6" r="4" stroke="#000" stroke-width="1.15" fill="#fff"/>
<circle cx="1111.4" cy="278.67" r="4" stroke="#000" stroke-width="1.15" fill="#fff"/>
<circle cx="1111.4" cy="290.74" r="4" stroke="#000" stroke-width="1.15" fill="#fff"/>
<circle cx="1111.4" cy="302.81" r="4" stroke="#000" stroke-width="1.15" fill="#fff"/>
<circle cx="1111.4" cy="314.88" r="4" stroke="#000" stroke-width="1.15" fill="#fff"/>
<circle cx="1111.4" cy="326.95" r="4" stroke="#000" stroke-width="1.15" fill="#fff"/>
<circle cx="1111.4" cy="339.02" r="4" stroke="#000" stroke-width="1.15" fill="#fff"/>
<path d="M1118.5 267.5 L1123.5 267.5" stroke="#000" stroke-width="1" fill="none" stroke-linecap="square" shape-rendering="crispEdges"/>
<path d="M1118.5 279.5 L1124.5 279.5" stroke="#000" stroke-width="1" fill="none" stroke-linecap="square" shape-rendering="crispEdges"/>
<path d="M1116.5 291.5 L1123.5 291.5" stroke="#000" stroke-width="1" fill="none" stroke-linecap="square" shape-rendering="crispEdges"/>
<path d="M1116.5 303.5 L1124.5 303.5" stroke="#000" stroke-width="1" fill="none" stroke-linecap="square" shape-rendering="crispEdges"/>
<path d="M1116.5 315.5 L1124.5 315.5" stroke="#000" stroke-width="1" fill="none" stroke-linecap="square" shape-rendering="crispEdges"/>
<path d="M1116.5 327.5 L1124.5 327.5" stroke="#000" stroke-width="1" fill="none" stroke-linecap="square" shape-rendering="crispEdges"/>
<path d="M1116.5 339.5 L1124.5 339.5 L1124.5 369.5" stroke="#000" stroke-width="1" fill="none" stroke-linecap="square" shape-rendering="crispEdges"/>
<rect x="1118" y="369" width="12.6" height="2.6" fill="#000"/>
<text x="1126.5" y="268.6" font-size="14" font-family="'Liberation Sans', sans-serif" textLength="15" lengthAdjust="spacingAndGlyphs">f/r</text>
<text x="1126.1" y="280.6" font-size="14" font-family="'Liberation Sans', sans-serif" textLength="27.4" lengthAdjust="spacingAndGlyphs">enbl</text>
<text x="1127.1" y="294.4" font-size="14" font-family="'Liberation Sans', sans-serif" textLength="19.8" lengthAdjust="spacingAndGlyphs">brk</text>
<text x="1128.1" y="308" font-size="14" font-family="'Liberation Sans', sans-serif" textLength="18" lengthAdjust="spacingAndGlyphs">avi</text>
<text x="1129.5" y="321" font-size="14" font-family="'Liberation Sans', sans-serif" textLength="38.6" lengthAdjust="spacingAndGlyphs">speed</text>
<text x="1129.1" y="335.4" font-size="14" font-family="'Liberation Sans', sans-serif" textLength="35.8" lengthAdjust="spacingAndGlyphs">alarm</text>
<text x="1132.1" y="348.4" font-size="11" font-family="'Liberation Sans', sans-serif" textLength="24" lengthAdjust="spacingAndGlyphs">GND</text>
<text x="1124.9" y="386.4" font-size="14" font-family="'Liberation Sans', sans-serif" textLength="26.2" lengthAdjust="spacingAndGlyphs">ACT</text>
<text x="1104.5" y="402.4" font-size="14" font-family="'Liberation Sans', sans-serif" textLength="80.6" lengthAdjust="spacingAndGlyphs">BLDC-8015A</text>
<path d="M782.5 452.5 L782.5 463.5" stroke="#000" stroke-width="1" fill="none" stroke-linecap="square" shape-rendering="crispEdges"/>
<rect x="779.5" y="463.5" width="6" height="16" stroke="#000" stroke-width="1" fill="none" shape-rendering="crispEdges"/>
<path d="M782.5 479.5 L782.5 491.5" stroke="#000" stroke-width="1" fill="none" stroke-linecap="square" shape-rendering="crispEdges"/>
<path d="M821.5 432.5 L821.5 463.5" stroke="#000" stroke-width="1" fill="none" stroke-linecap="square" shape-rendering="crispEdges"/>
<rect x="818.5" y="463.5" width="6" height="16" stroke="#000" stroke-width="1" fill="none" shape-rendering="crispEdges"/>
<path d="M821.5 479.5 L821.5 491.5" stroke="#000" stroke-width="1" fill="none" stroke-linecap="square" shape-rendering="crispEdges"/>
<path d="M322.5 491.5 L944.5 491.5" stroke="#000" stroke-width="1" fill="none" stroke-linecap="square" shape-rendering="crispEdges"/>
<text x="828.5" y="476.6" font-size="11" font-family="'Liberation Sans', sans-serif" textLength="12.6" lengthAdjust="spacingAndGlyphs">1k</text>
<text x="776.1" y="504" font-size="11" font-family="'Liberation Sans', sans-serif" textLength="13.4" lengthAdjust="spacingAndGlyphs">5k</text>
<text x="815.5" y="504" font-size="11" font-family="'Liberation Sans', sans-serif" textLength="13.4" lengthAdjust="spacingAndGlyphs">5k</text>
<path d="M808.6 495.6 L832 510.6" stroke="#ed1c24" stroke-width="1" fill="none"/>
<path d="M829 494.4 L808.6 509.4" stroke="#ed1c24" stroke-width="1" fill="none"/>
<text x="886.5" y="487" font-size="12.5" font-family="'Liberation Sans', sans-serif" textLength="22.6" lengthAdjust="spacingAndGlyphs">2u2</text>
<path d="M913.5 491.5 L913.5 495.5" stroke="#000" stroke-width="1" fill="none" stroke-linecap="square" shape-rendering="crispEdges"/>
<rect x="908" y="495" width="11" height="2.1" fill="#000"/>
<rect x="908" y="498.3" width="11" height="1.8" fill="#000"/>
<path d="M913.5 500.5 L913.5 508.5" stroke="#000" stroke-width="1" fill="none" stroke-linecap="square" shape-rendering="crispEdges"/>
<rect x="908" y="508.9" width="11" height="2.1" fill="#000"/>
<circle cx="1094.4" cy="479" r="4" stroke="#000" stroke-width="1.15" fill="#fff"/>
<circle cx="1094.4" cy="491" r="4" stroke="#000" stroke-width="1.15" fill="#fff"/>
<circle cx="1094.4" cy="503" r="4" stroke="#000" stroke-width="1.15" fill="#fff"/>
<circle cx="1094.4" cy="515" r="4" stroke="#000" stroke-width="1.15" fill="#fff"/>
<circle cx="1094.4" cy="527" r="4" stroke="#000" stroke-width="1.15" fill="#fff"/>
<circle cx="1094.4" cy="539" r="4" stroke="#000" stroke-width="1.15" fill="#fff"/>
<path d="M1100.5 479.5 L1103.5 479.5" stroke="#000" stroke-width="1" fill="none" stroke-linecap="square" shape-rendering="crispEdges"/>
<path d="M1064.5 490.5 L1090.5 490.5" stroke="#000" stroke-width="1" fill="none" stroke-linecap="square" shape-rendering="crispEdges"/>
<path d="M1064.5 503.5 L1090.5 503.5" stroke="#000" stroke-width="1" fill="none" stroke-linecap="square" shape-rendering="crispEdges"/>
<path d="M1064.5 515.5 L1090.5 515.5" stroke="#000" stroke-width="1" fill="none" stroke-linecap="square" shape-rendering="crispEdges"/>
<path d="M1090.5 527.5 L960.5 527.5 L960.5 545.5 L949.5 545.5" stroke="#000" stroke-width="1" fill="none" stroke-linecap="square" shape-rendering="crispEdges"/>
<path d="M1099.5 538.5 L1110.5 538.5 L1110.5 552.5" stroke="#000" stroke-width="1" fill="none" stroke-linecap="square" shape-rendering="crispEdges"/>
<rect x="1103" y="552" width="13" height="2.6" fill="#000"/>
<text x="1109.5" y="482.6" font-size="11" font-family="'Liberation Sans', sans-serif" textLength="26.4" lengthAdjust="spacingAndGlyphs">+12V</text>
<text x="1102.9" y="493.6" font-size="12" font-family="'Liberation Sans', sans-serif" textLength="48.2" lengthAdjust="spacingAndGlyphs">solenoid</text>
<text x="1154.1" y="493.6" font-size="11" font-family="'Liberation Sans', sans-serif" fill="#ff7f27" textLength="20.4" lengthAdjust="spacingAndGlyphs">RC2</text>
<text x="1103.5" y="507.4" font-size="12" font-family="'Liberation Sans', sans-serif" textLength="25" lengthAdjust="spacingAndGlyphs">light</text>
<text x="1154.1" y="507.4" font-size="11" font-family="'Liberation Sans', sans-serif" fill="#ff7f27" textLength="20.4" lengthAdjust="spacingAndGlyphs">RA3</text>
<text x="1103.5" y="519.4" font-size="12" font-family="'Liberation Sans', sans-serif" textLength="25" lengthAdjust="spacingAndGlyphs">light</text>
<text x="1154.1" y="518.4" font-size="11" font-family="'Liberation Sans', sans-serif" fill="#ff7f27" textLength="20.4" lengthAdjust="spacingAndGlyphs">RA4</text>
<text x="1154.1" y="530.4" font-size="11" font-family="'Liberation Sans', sans-serif" fill="#ff7f27" textLength="20.4" lengthAdjust="spacingAndGlyphs">RA5</text>
<text x="1056.9" y="494.4" font-size="12" font-family="'Liberation Sans', sans-serif" textLength="5.6" lengthAdjust="spacingAndGlyphs">c</text>
<text x="1056.9" y="507.4" font-size="12" font-family="'Liberation Sans', sans-serif" textLength="6.6" lengthAdjust="spacingAndGlyphs">b</text>
<text x="1056.9" y="519.4" font-size="12" font-family="'Liberation Sans', sans-serif" textLength="6.2" lengthAdjust="spacingAndGlyphs">a</text>
<path d="M944.5 563.5 L944.5 545.5" stroke="#000" stroke-width="1" fill="none" stroke-linecap="square" shape-rendering="crispEdges"/>
<rect x="946" y="542" width="3" height="23.9" fill="#000"/>
<path d="M949.5 563.5 L960.5 563.5 L960.5 586.5" stroke="#000" stroke-width="1" fill="none" stroke-linecap="square" shape-rendering="crispEdges"/>
<rect x="956" y="586" width="8" height="2.2" fill="#000"/>
<text x="877.9" y="547.6" font-size="11" font-family="'Liberation Sans', sans-serif" textLength="54" lengthAdjust="spacingAndGlyphs">resonator</text>
<text x="877.9" y="558" font-size="11" font-family="'Liberation Sans', sans-serif" textLength="34" lengthAdjust="spacingAndGlyphs">signal</text>
<text x="959.5" y="558.6" font-size="11" font-family="'Liberation Sans', sans-serif" textLength="43.6" lengthAdjust="spacingAndGlyphs">IRLZ34N</text>
<rect x="1062" y="655.4" width="1" height="1.2" fill="#ffb27a"/>
<rect x="1062" y="659.8" width="1" height="1.2" fill="#ffb27a"/>
<text x="902.9" y="594.4" font-size="12" font-family="'Liberation Sans', sans-serif" textLength="23" lengthAdjust="spacingAndGlyphs">+5V</text>
<text x="757.1" y="656.6" font-size="11" font-family="'Liberation Sans', sans-serif" textLength="49" lengthAdjust="spacingAndGlyphs">74HCT14</text>
<path d="M763.4 606.8 L763.4 635.4 L777 622 L763.4 606.8" stroke="#000" stroke-width="1.15" fill="none" stroke-linejoin="miter"/>
<circle cx="781" cy="622.8" r="3.6" stroke="#000" stroke-width="1.15" fill="#fff"/>
<path d="M785.5 622.5 L832.5 622.5" stroke="#000" stroke-width="1" fill="none" stroke-linecap="square" shape-rendering="crispEdges"/>
<path d="M815.5 622.5 L815.5 816.5 L833.5 816.5" stroke="#000" stroke-width="1" fill="none" stroke-linecap="square" shape-rendering="crispEdges"/>
<path d="M915.5 600.5 L915.5 898.5 L952.5 898.5" stroke="#000" stroke-width="1" fill="none" stroke-linecap="square" shape-rendering="crispEdges"/>
<path d="M832.4 606.8 L832.4 635.4 L846 622 L832.4 606.8" stroke="#000" stroke-width="1.15" fill="none" stroke-linejoin="miter"/>
<circle cx="850" cy="622.8" r="3.6" stroke="#000" stroke-width="1.15" fill="#fff"/>
<path d="M854.5 622.5 L952.5 622.5" stroke="#000" stroke-width="1" fill="none" stroke-linecap="square" shape-rendering="crispEdges"/>
<path d="M915.5 637.5 L952.5 637.5" stroke="#000" stroke-width="1" fill="none" stroke-linecap="square" shape-rendering="crispEdges"/>
<path d="M815.5 668.5 L832.5 668.5" stroke="#000" stroke-width="1" fill="none" stroke-linecap="square" shape-rendering="crispEdges"/>
<path d="M832.4 653.2 L832.4 681.8 L846 668.4 L832.4 653.2" stroke="#000" stroke-width="1.15" fill="none" stroke-linejoin="miter"/>
<circle cx="850" cy="669.2" r="3.6" stroke="#000" stroke-width="1.15" fill="#fff"/>
<path d="M854.5 669.5 L894.5 669.5 L894.5 682.5 L953.5 682.5" stroke="#000" stroke-width="1" fill="none" stroke-linecap="square" shape-rendering="crispEdges"/>
<path d="M915.5 697.5 L953.5 697.5" stroke="#000" stroke-width="1" fill="none" stroke-linecap="square" shape-rendering="crispEdges"/>
<path d="M815.5 716.5 L832.5 716.5" stroke="#000" stroke-width="1" fill="none" stroke-linecap="square" shape-rendering="crispEdges"/>
<path d="M832.4 700.8 L832.4 729.4 L846 716 L832.4 700.8" stroke="#000" stroke-width="1.15" fill="none" stroke-linejoin="miter"/>
<circle cx="850" cy="716.8" r="3.6" stroke="#000" stroke-width="1.15" fill="#fff"/>
<path d="M854.5 716.5 L892.5 716.5 L892.5 745.5 L953.5 745.5" stroke="#000" stroke-width="1" fill="none" stroke-linecap="square" shape-rendering="crispEdges"/>
<path d="M915.5 760.5 L953.5 760.5" stroke="#000" stroke-width="1" fill="none" stroke-linecap="square" shape-rendering="crispEdges"/>
<path d="M815.5 765.5 L831.5 765.5" stroke="#000" stroke-width="1" fill="none" stroke-linecap="square" shape-rendering="crispEdges"/>
<path d="M831.4 749.8 L831.4 778.4 L845 765 L831.4 749.8" stroke="#000" stroke-width="1.15" fill="none" stroke-linejoin="miter"/>
<circle cx="849" cy="765.8" r="3.6" stroke="#000" stroke-width="1.15" fill="#fff"/>
<path d="M853.5 765.5 L877.5 765.5 L877.5 810.5 L953.5 810.5" stroke="#000" stroke-width="1" fill="none" stroke-linecap="square" shape-rendering="crispEdges"/>
<path d="M915.5 825.5 L953.5 825.5" stroke="#000" stroke-width="1" fill="none" stroke-linecap="square" shape-rendering="crispEdges"/>
<path d="M833.4 800.8 L833.4 829.4 L847 816 L833.4 800.8" stroke="#000" stroke-width="1.15" fill="none" stroke-linejoin="miter"/>
<circle cx="851" cy="816.8" r="3.6" stroke="#000" stroke-width="1.15" fill="#fff"/>
<path d="M855.5 816.5 L865.5 816.5 L865.5 883.5 L952.5 883.5" stroke="#000" stroke-width="1" fill="none" stroke-linecap="square" shape-rendering="crispEdges"/>
<path d="M955.5 655.5 L955.5 661.5" stroke="#000" stroke-width="1" fill="none" stroke-linecap="square" shape-rendering="crispEdges"/>
<rect x="948.3" y="661.1" width="17.7" height="2.7" fill="#000"/>
<circle cx="955.8" cy="621.9" r="3.6" stroke="#000" stroke-width="1.15" fill="#fff"/>
<circle cx="955.8" cy="636.9" r="3.6" stroke="#000" stroke-width="1.15" fill="#fff"/>
<circle cx="955.8" cy="652" r="3.6" stroke="#000" stroke-width="1.15" fill="#fff"/>
<path d="M956.5 714.5 L956.5 721.5" stroke="#000" stroke-width="1" fill="none" stroke-linecap="square" shape-rendering="crispEdges"/>
<rect x="949" y="721" width="17.7" height="2.7" fill="#000"/>
<circle cx="956.9" cy="682" r="3.6" stroke="#000" stroke-width="1.15" fill="#fff"/>
<circle cx="956.9" cy="697.1" r="3.6" stroke="#000" stroke-width="1.15" fill="#fff"/>
<circle cx="956.9" cy="711.8" r="3.6" stroke="#000" stroke-width="1.15" fill="#fff"/>
<path d="M956.5 777.5 L956.5 784.5" stroke="#000" stroke-width="1" fill="none" stroke-linecap="square" shape-rendering="crispEdges"/>
<rect x="949" y="784" width="17.7" height="2.7" fill="#000"/>
<circle cx="956.9" cy="744.8" r="3.6" stroke="#000" stroke-width="1.15" fill="#fff"/>
<circle cx="956.9" cy="759.6" r="3.6" stroke="#000" stroke-width="1.15" fill="#fff"/>
<circle cx="956.9" cy="774.8" r="3.6" stroke="#000" stroke-width="1.15" fill="#fff"/>
<path d="M956.5 843.5 L956.5 849.5" stroke="#000" stroke-width="1" fill="none" stroke-linecap="square" shape-rendering="crispEdges"/>
<rect x="949" y="849" width="17.7" height="2.7" fill="#000"/>
<circle cx="956.9" cy="810" r="3.6" stroke="#000" stroke-width="1.15" fill="#fff"/>
<circle cx="956.9" cy="825" r="3.6" stroke="#000" stroke-width="1.15" fill="#fff"/>
<circle cx="956.9" cy="840.2" r="3.6" stroke="#000" stroke-width="1.15" fill="#fff"/>
<path d="M955.5 916.5 L955.5 922.5" stroke="#000" stroke-width="1" fill="none" stroke-linecap="square" shape-rendering="crispEdges"/>
<rect x="947" y="922" width="18" height="2.7" fill="#000"/>
<circle cx="955.6" cy="883" r="3.6" stroke="#000" stroke-width="1.15" fill="#fff"/>
<circle cx="955.6" cy="897.6" r="3.6" stroke="#000" stroke-width="1.15" fill="#fff"/>
<circle cx="955.6" cy="913.4" r="3.6" stroke="#000" stroke-width="1.15" fill="#fff"/>
<text x="975.9" y="623" font-size="12" font-family="'Liberation Sans', sans-serif" textLength="53.6" lengthAdjust="spacingAndGlyphs">TTL-Midi</text>
<text x="977.5" y="647" font-size="12" font-family="'Liberation Sans', sans-serif" font-weight="bold" textLength="51.4" lengthAdjust="spacingAndGlyphs">delayed</text>
<text x="977.1" y="761.4" font-size="11.5" font-family="'Liberation Sans', sans-serif" textLength="101.4" lengthAdjust="spacingAndGlyphs">midi-debug output</text>
</svg>
</body></html>
